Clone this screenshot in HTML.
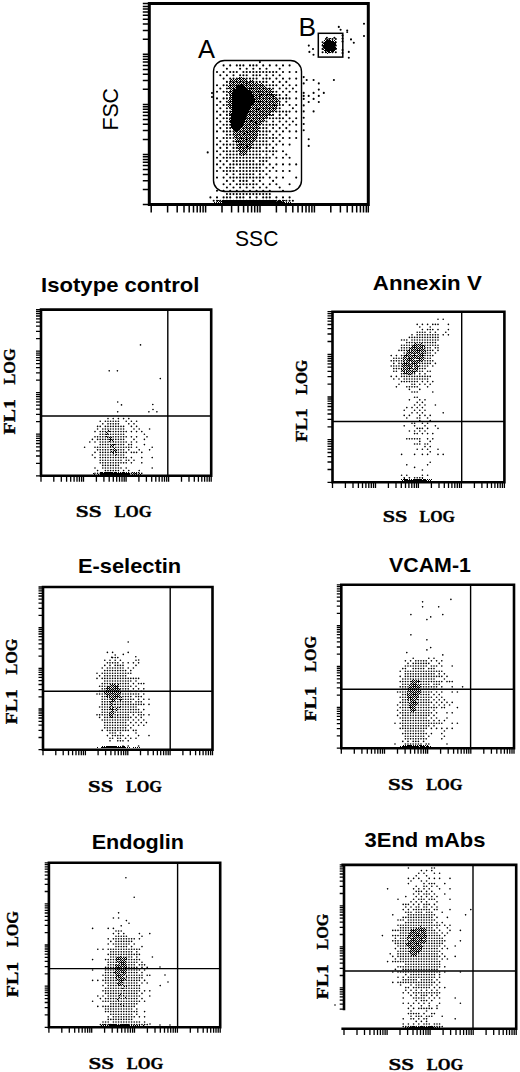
<!DOCTYPE html>
<html><head><meta charset="utf-8"><title>Flow cytometry</title>
<style>html,body{margin:0;padding:0;background:#fff;width:520px;height:1072px;overflow:hidden}svg{display:block}</style>
</head><body><svg width="520" height="1072" viewBox="0 0 520 1072"><defs><pattern id="chk" width="2" height="2" patternUnits="userSpaceOnUse"><path d="M0 0h1v1h-1zM1 1h1v1h-1z"/></pattern></defs>
<path d="M325.9 39h0M329.2 39h0M332.5 39h0M335.8 39h0M322.6 42.3h0M325.9 42.3h0M329.2 42.3h0M332.5 42.3h0M335.8 42.3h0M322.6 45.6h0M325.9 45.6h0M329.2 45.6h0M332.5 45.6h0M335.8 45.6h0M322.6 48.9h0M325.9 48.9h0M329.2 48.9h0M332.5 48.9h0M335.8 48.9h0M322.6 52.2h0M325.9 52.2h0M329.2 52.2h0M332.5 52.2h0M335.8 52.2h0M259.9 62.1h0M223.6 65.4h0M230.2 65.4h0M236.8 65.4h0M240.1 65.4h0M243.4 65.4h0M250 65.4h0M253.3 65.4h0M256.6 65.4h0M263.2 65.4h0M269.8 65.4h0M276.4 65.4h0M283 65.4h0M289.6 65.4h0M226.9 68.7h0M240.1 68.7h0M246.7 68.7h0M253.3 68.7h0M259.9 68.7h0M266.5 68.7h0M279.7 68.7h0M217 72h0M223.6 72h0M230.2 72h0M233.5 72h0M236.8 72h0M243.4 72h0M246.7 72h0M250 72h0M253.3 72h0M256.6 72h0M259.9 72h0M263.2 72h0M266.5 72h0M269.8 72h0M273.1 72h0M276.4 72h0M283 72h0M289.6 72h0M296.2 72h0M220.3 75.3h0M226.9 75.3h0M233.5 75.3h0M240.1 75.3h0M243.4 75.3h0M246.7 75.3h0M253.3 75.3h0M256.6 75.3h0M259.9 75.3h0M266.5 75.3h0M273.1 75.3h0M279.7 75.3h0M223.6 78.6h0M230.2 78.6h0M233.5 78.6h0M236.8 78.6h0M240.1 78.6h0M243.4 78.6h0M246.7 78.6h0M250 78.6h0M253.3 78.6h0M256.6 78.6h0M263.2 78.6h0M266.5 78.6h0M269.8 78.6h0M276.4 78.6h0M283 78.6h0M289.6 78.6h0M296.2 78.6h0M226.9 81.9h0M230.2 81.9h0M233.5 81.9h0M236.8 81.9h0M240.1 81.9h0M243.4 81.9h0M246.7 81.9h0M250 81.9h0M253.3 81.9h0M256.6 81.9h0M259.9 81.9h0M263.2 81.9h0M266.5 81.9h0M273.1 81.9h0M279.7 81.9h0M286.3 81.9h0M217 85.2h0M223.6 85.2h0M226.9 85.2h0M230.2 85.2h0M233.5 85.2h0M236.8 85.2h0M240.1 85.2h0M243.4 85.2h0M246.7 85.2h0M250 85.2h0M253.3 85.2h0M256.6 85.2h0M259.9 85.2h0M263.2 85.2h0M266.5 85.2h0M269.8 85.2h0M273.1 85.2h0M276.4 85.2h0M283 85.2h0M289.6 85.2h0M296.2 85.2h0M220.3 88.5h0M226.9 88.5h0M230.2 88.5h0M233.5 88.5h0M236.8 88.5h0M240.1 88.5h0M243.4 88.5h0M246.7 88.5h0M250 88.5h0M253.3 88.5h0M256.6 88.5h0M259.9 88.5h0M263.2 88.5h0M266.5 88.5h0M269.8 88.5h0M273.1 88.5h0M279.7 88.5h0M286.3 88.5h0M292.9 88.5h0M217 91.8h0M223.6 91.8h0M226.9 91.8h0M230.2 91.8h0M233.5 91.8h0M236.8 91.8h0M240.1 91.8h0M243.4 91.8h0M246.7 91.8h0M250 91.8h0M253.3 91.8h0M256.6 91.8h0M259.9 91.8h0M263.2 91.8h0M266.5 91.8h0M269.8 91.8h0M273.1 91.8h0M276.4 91.8h0M283 91.8h0M289.6 91.8h0M296.2 91.8h0M226.9 95.1h0M230.2 95.1h0M233.5 95.1h0M236.8 95.1h0M240.1 95.1h0M243.4 95.1h0M246.7 95.1h0M250 95.1h0M253.3 95.1h0M256.6 95.1h0M259.9 95.1h0M263.2 95.1h0M266.5 95.1h0M269.8 95.1h0M273.1 95.1h0M276.4 95.1h0M279.7 95.1h0M286.3 95.1h0M217 98.4h0M223.6 98.4h0M226.9 98.4h0M230.2 98.4h0M233.5 98.4h0M236.8 98.4h0M240.1 98.4h0M243.4 98.4h0M246.7 98.4h0M250 98.4h0M253.3 98.4h0M256.6 98.4h0M259.9 98.4h0M263.2 98.4h0M266.5 98.4h0M269.8 98.4h0M273.1 98.4h0M276.4 98.4h0M279.7 98.4h0M283 98.4h0M286.3 98.4h0M289.6 98.4h0M296.2 98.4h0M220.3 101.7h0M226.9 101.7h0M230.2 101.7h0M233.5 101.7h0M236.8 101.7h0M240.1 101.7h0M243.4 101.7h0M246.7 101.7h0M250 101.7h0M253.3 101.7h0M256.6 101.7h0M259.9 101.7h0M263.2 101.7h0M266.5 101.7h0M269.8 101.7h0M273.1 101.7h0M276.4 101.7h0M279.7 101.7h0M286.3 101.7h0M217 105h0M223.6 105h0M226.9 105h0M230.2 105h0M233.5 105h0M236.8 105h0M240.1 105h0M243.4 105h0M246.7 105h0M250 105h0M253.3 105h0M256.6 105h0M259.9 105h0M263.2 105h0M266.5 105h0M269.8 105h0M273.1 105h0M276.4 105h0M279.7 105h0M283 105h0M289.6 105h0M296.2 105h0M220.3 108.3h0M226.9 108.3h0M230.2 108.3h0M233.5 108.3h0M236.8 108.3h0M240.1 108.3h0M243.4 108.3h0M246.7 108.3h0M250 108.3h0M253.3 108.3h0M256.6 108.3h0M259.9 108.3h0M263.2 108.3h0M266.5 108.3h0M269.8 108.3h0M273.1 108.3h0M276.4 108.3h0M279.7 108.3h0M292.9 108.3h0M217 111.6h0M223.6 111.6h0M226.9 111.6h0M230.2 111.6h0M233.5 111.6h0M236.8 111.6h0M240.1 111.6h0M243.4 111.6h0M246.7 111.6h0M250 111.6h0M253.3 111.6h0M256.6 111.6h0M259.9 111.6h0M263.2 111.6h0M266.5 111.6h0M269.8 111.6h0M273.1 111.6h0M276.4 111.6h0M279.7 111.6h0M283 111.6h0M286.3 111.6h0M289.6 111.6h0M296.2 111.6h0M220.3 114.9h0M226.9 114.9h0M230.2 114.9h0M233.5 114.9h0M236.8 114.9h0M240.1 114.9h0M243.4 114.9h0M246.7 114.9h0M250 114.9h0M253.3 114.9h0M256.6 114.9h0M259.9 114.9h0M263.2 114.9h0M266.5 114.9h0M269.8 114.9h0M273.1 114.9h0M279.7 114.9h0M286.3 114.9h0M217 118.2h0M223.6 118.2h0M226.9 118.2h0M230.2 118.2h0M233.5 118.2h0M236.8 118.2h0M240.1 118.2h0M243.4 118.2h0M246.7 118.2h0M250 118.2h0M253.3 118.2h0M256.6 118.2h0M259.9 118.2h0M263.2 118.2h0M266.5 118.2h0M269.8 118.2h0M273.1 118.2h0M276.4 118.2h0M279.7 118.2h0M283 118.2h0M289.6 118.2h0M296.2 118.2h0M220.3 121.5h0M226.9 121.5h0M230.2 121.5h0M233.5 121.5h0M236.8 121.5h0M240.1 121.5h0M243.4 121.5h0M246.7 121.5h0M250 121.5h0M253.3 121.5h0M256.6 121.5h0M259.9 121.5h0M263.2 121.5h0M266.5 121.5h0M273.1 121.5h0M279.7 121.5h0M286.3 121.5h0M292.9 121.5h0M217 124.8h0M223.6 124.8h0M226.9 124.8h0M230.2 124.8h0M233.5 124.8h0M236.8 124.8h0M240.1 124.8h0M243.4 124.8h0M246.7 124.8h0M250 124.8h0M253.3 124.8h0M256.6 124.8h0M259.9 124.8h0M263.2 124.8h0M266.5 124.8h0M269.8 124.8h0M273.1 124.8h0M276.4 124.8h0M283 124.8h0M289.6 124.8h0M296.2 124.8h0M220.3 128.1h0M226.9 128.1h0M230.2 128.1h0M233.5 128.1h0M236.8 128.1h0M240.1 128.1h0M243.4 128.1h0M246.7 128.1h0M250 128.1h0M253.3 128.1h0M256.6 128.1h0M259.9 128.1h0M263.2 128.1h0M266.5 128.1h0M273.1 128.1h0M279.7 128.1h0M286.3 128.1h0M217 131.4h0M223.6 131.4h0M226.9 131.4h0M230.2 131.4h0M233.5 131.4h0M236.8 131.4h0M240.1 131.4h0M243.4 131.4h0M246.7 131.4h0M250 131.4h0M253.3 131.4h0M256.6 131.4h0M259.9 131.4h0M263.2 131.4h0M266.5 131.4h0M269.8 131.4h0M276.4 131.4h0M283 131.4h0M289.6 131.4h0M296.2 131.4h0M226.9 134.7h0M230.2 134.7h0M233.5 134.7h0M236.8 134.7h0M240.1 134.7h0M243.4 134.7h0M246.7 134.7h0M250 134.7h0M253.3 134.7h0M256.6 134.7h0M259.9 134.7h0M263.2 134.7h0M266.5 134.7h0M273.1 134.7h0M279.7 134.7h0M217 138h0M223.6 138h0M226.9 138h0M230.2 138h0M233.5 138h0M236.8 138h0M240.1 138h0M243.4 138h0M246.7 138h0M250 138h0M253.3 138h0M256.6 138h0M259.9 138h0M263.2 138h0M266.5 138h0M269.8 138h0M273.1 138h0M276.4 138h0M283 138h0M289.6 138h0M296.2 138h0M220.3 141.3h0M226.9 141.3h0M233.5 141.3h0M236.8 141.3h0M240.1 141.3h0M243.4 141.3h0M246.7 141.3h0M250 141.3h0M253.3 141.3h0M256.6 141.3h0M259.9 141.3h0M263.2 141.3h0M266.5 141.3h0M273.1 141.3h0M279.7 141.3h0M217 144.6h0M223.6 144.6h0M226.9 144.6h0M230.2 144.6h0M233.5 144.6h0M236.8 144.6h0M240.1 144.6h0M243.4 144.6h0M246.7 144.6h0M250 144.6h0M253.3 144.6h0M256.6 144.6h0M259.9 144.6h0M263.2 144.6h0M266.5 144.6h0M269.8 144.6h0M276.4 144.6h0M283 144.6h0M289.6 144.6h0M220.3 147.9h0M226.9 147.9h0M233.5 147.9h0M236.8 147.9h0M240.1 147.9h0M243.4 147.9h0M246.7 147.9h0M250 147.9h0M253.3 147.9h0M256.6 147.9h0M259.9 147.9h0M266.5 147.9h0M273.1 147.9h0M217 151.2h0M223.6 151.2h0M226.9 151.2h0M230.2 151.2h0M233.5 151.2h0M236.8 151.2h0M240.1 151.2h0M243.4 151.2h0M246.7 151.2h0M250 151.2h0M253.3 151.2h0M256.6 151.2h0M259.9 151.2h0M263.2 151.2h0M266.5 151.2h0M269.8 151.2h0M273.1 151.2h0M276.4 151.2h0M283 151.2h0M220.3 154.5h0M226.9 154.5h0M230.2 154.5h0M233.5 154.5h0M236.8 154.5h0M240.1 154.5h0M243.4 154.5h0M246.7 154.5h0M250 154.5h0M253.3 154.5h0M256.6 154.5h0M259.9 154.5h0M266.5 154.5h0M273.1 154.5h0M286.3 154.5h0M217 157.8h0M223.6 157.8h0M226.9 157.8h0M230.2 157.8h0M233.5 157.8h0M236.8 157.8h0M240.1 157.8h0M243.4 157.8h0M246.7 157.8h0M250 157.8h0M253.3 157.8h0M256.6 157.8h0M259.9 157.8h0M263.2 157.8h0M266.5 157.8h0M269.8 157.8h0M276.4 157.8h0M283 157.8h0M289.6 157.8h0M220.3 161.1h0M226.9 161.1h0M233.5 161.1h0M236.8 161.1h0M240.1 161.1h0M243.4 161.1h0M246.7 161.1h0M250 161.1h0M253.3 161.1h0M259.9 161.1h0M263.2 161.1h0M266.5 161.1h0M217 164.4h0M223.6 164.4h0M230.2 164.4h0M233.5 164.4h0M236.8 164.4h0M240.1 164.4h0M243.4 164.4h0M246.7 164.4h0M250 164.4h0M253.3 164.4h0M256.6 164.4h0M259.9 164.4h0M263.2 164.4h0M269.8 164.4h0M276.4 164.4h0M283 164.4h0M289.6 164.4h0M296.2 164.4h0M220.3 167.7h0M226.9 167.7h0M230.2 167.7h0M233.5 167.7h0M240.1 167.7h0M243.4 167.7h0M246.7 167.7h0M250 167.7h0M253.3 167.7h0M256.6 167.7h0M259.9 167.7h0M266.5 167.7h0M273.1 167.7h0M217 171h0M223.6 171h0M226.9 171h0M230.2 171h0M233.5 171h0M236.8 171h0M240.1 171h0M243.4 171h0M246.7 171h0M250 171h0M253.3 171h0M256.6 171h0M259.9 171h0M263.2 171h0M269.8 171h0M276.4 171h0M283 171h0M289.6 171h0M226.9 174.3h0M233.5 174.3h0M240.1 174.3h0M243.4 174.3h0M246.7 174.3h0M250 174.3h0M253.3 174.3h0M259.9 174.3h0M266.5 174.3h0M217 177.6h0M223.6 177.6h0M230.2 177.6h0M233.5 177.6h0M236.8 177.6h0M240.1 177.6h0M243.4 177.6h0M246.7 177.6h0M250 177.6h0M253.3 177.6h0M256.6 177.6h0M259.9 177.6h0M263.2 177.6h0M269.8 177.6h0M276.4 177.6h0M283 177.6h0M296.2 177.6h0M226.9 180.9h0M233.5 180.9h0M240.1 180.9h0M243.4 180.9h0M246.7 180.9h0M253.3 180.9h0M259.9 180.9h0M273.1 180.9h0M223.6 184.2h0M230.2 184.2h0M236.8 184.2h0M240.1 184.2h0M243.4 184.2h0M246.7 184.2h0M250 184.2h0M253.3 184.2h0M256.6 184.2h0M263.2 184.2h0M269.8 184.2h0M276.4 184.2h0M289.6 184.2h0M226.9 187.5h0M233.5 187.5h0M240.1 187.5h0M246.7 187.5h0M253.3 187.5h0M259.9 187.5h0M266.5 187.5h0M279.7 187.5h0M217 190.8h0M223.6 190.8h0M230.2 190.8h0M236.8 190.8h0M243.4 190.8h0M250 190.8h0M256.6 190.8h0M263.2 190.8h0M269.8 190.8h0M283 190.8h0M226.9 194.1h0M230.2 194.1h0M233.5 194.1h0M236.8 194.1h0M240.1 194.1h0M243.4 194.1h0M246.7 194.1h0M250 194.1h0M253.3 194.1h0M256.6 194.1h0M259.9 194.1h0M263.2 194.1h0M266.5 194.1h0M269.8 194.1h0M210.4 197.4h0M217 197.4h0M223.6 197.4h0M226.9 197.4h0M230.2 197.4h0M236.8 197.4h0M240.1 197.4h0M243.4 197.4h0M250 197.4h0M256.6 197.4h0M263.2 197.4h0M266.5 197.4h0M269.8 197.4h0M276.4 197.4h0M283 197.4h0M289.6 197.4h0M213.7 200.7h0M217 200.7h0M220.3 200.7h0M223.6 200.7h0M226.9 200.7h0M230.2 200.7h0M233.5 200.7h0M236.8 200.7h0M240.1 200.7h0M243.4 200.7h0M246.7 200.7h0M250 200.7h0M253.3 200.7h0M256.6 200.7h0M259.9 200.7h0M263.2 200.7h0M266.5 200.7h0M269.8 200.7h0M273.1 200.7h0M276.4 200.7h0M279.7 200.7h0M283 200.7h0M286.3 200.7h0M289.6 200.7h0M292.9 200.7h0" stroke="#000" stroke-width="2.1" stroke-linecap="round"/>
<path d="M330 38h1v1h-1zM327 39h3v1h-3zM332 39h1v1h-1zM324 40h11v1h-11zM324 41h12v1h-12zM323 42h13v1h-13zM323 43h13v1h-13zM322 44h14v1h-14zM323 45h14v1h-14zM323 46h13v1h-13zM323 47h14v1h-14zM322 48h15v1h-15zM323 49h13v1h-13zM324 50h12v1h-12zM325 51h9v1h-9zM326 52h7v1h-7zM327 53h2v1h-2zM239 77h3v1h-3zM237 78h6v1h-6zM244 78h2v1h-2zM231 79h1v1h-1zM233 79h11v1h-11zM245 79h1v1h-1zM230 80h18v1h-18zM249 80h4v1h-4zM231 81h22v1h-22zM256 81h1v1h-1zM229 82h25v1h-25zM255 82h3v1h-3zM259 82h1v1h-1zM229 83h30v1h-30zM260 83h2v1h-2zM229 84h32v1h-32zM262 84h1v1h-1zM229 85h34v1h-34zM264 85h1v1h-1zM228 86h1v1h-1zM230 86h36v1h-36zM228 87h39v1h-39zM228 88h1v1h-1zM230 88h40v1h-40zM228 89h1v1h-1zM230 89h42v1h-42zM229 90h42v1h-42zM228 91h44v1h-44zM228 92h46v1h-46zM228 93h45v1h-45zM274 93h1v1h-1zM229 94h46v1h-46zM228 95h1v1h-1zM230 95h46v1h-46zM229 96h47v1h-47zM228 97h49v1h-49zM229 98h48v1h-48zM228 99h50v1h-50zM228 100h52v1h-52zM228 101h51v1h-51zM228 102h50v1h-50zM228 103h50v1h-50zM279 103h1v1h-1zM228 104h50v1h-50zM229 105h50v1h-50zM228 106h49v1h-49zM229 107h48v1h-48zM229 108h48v1h-48zM230 109h46v1h-46zM229 110h1v1h-1zM231 110h45v1h-45zM230 111h46v1h-46zM229 112h43v1h-43zM273 112h1v1h-1zM229 113h42v1h-42zM272 113h1v1h-1zM230 114h43v1h-43zM229 115h39v1h-39zM270 115h2v1h-2zM229 116h1v1h-1zM231 116h37v1h-37zM269 116h1v1h-1zM230 117h38v1h-38zM230 118h38v1h-38zM229 119h36v1h-36zM230 120h35v1h-35zM229 121h35v1h-35zM230 122h32v1h-32zM263 122h1v1h-1zM230 123h32v1h-32zM231 124h31v1h-31zM230 125h29v1h-29zM231 126h29v1h-29zM231 127h29v1h-29zM232 128h27v1h-27zM232 129h27v1h-27zM233 130h26v1h-26zM233 131h25v1h-25zM234 132h24v1h-24zM233 133h25v1h-25zM234 134h23v1h-23zM234 135h24v1h-24zM234 136h23v1h-23zM235 137h21v1h-21zM235 138h1v1h-1zM237 138h18v1h-18zM235 139h21v1h-21zM235 140h20v1h-20zM235 141h20v1h-20zM236 142h18v1h-18zM236 143h1v1h-1zM238 143h15v1h-15zM236 144h18v1h-18zM237 145h15v1h-15zM237 146h15v1h-15zM237 147h15v1h-15zM238 148h13v1h-13zM238 149h12v1h-12zM238 150h10v1h-10zM240 151h7v1h-7zM248 151h1v1h-1zM239 152h8v1h-8zM239 153h1v1h-1zM241 153h5v1h-5zM240 154h2v1h-2zM243 154h3v1h-3zM241 155h4v1h-4zM217 200h68v1h-68zM216 201h69v1h-69zM288 201h1v1h-1zM214 202h73v1h-73zM288 202h1v1h-1zM290 202h2v1h-2z" fill="url(#chk)"/>
<path d="M327 40h4v1h-4zM326 41h5v1h-5zM332 41h2v1h-2zM325 42h10v1h-10zM324 43h11v1h-11zM324 44h10v1h-10zM335 44h1v1h-1zM323 45h13v1h-13zM323 46h12v1h-12zM324 47h11v1h-11zM324 48h10v1h-10zM335 48h1v1h-1zM325 49h8v1h-8zM334 49h1v1h-1zM325 50h9v1h-9zM327 51h3v1h-3zM331 51h2v1h-2zM244 82h1v1h-1zM246 83h1v1h-1zM240 84h2v1h-2zM244 84h1v1h-1zM250 84h1v1h-1zM238 85h5v1h-5zM237 86h7v1h-7zM236 87h9v1h-9zM249 87h1v1h-1zM236 88h11v1h-11zM251 88h1v1h-1zM259 88h1v1h-1zM234 89h14v1h-14zM233 90h17v1h-17zM252 90h1v1h-1zM262 90h1v1h-1zM233 91h17v1h-17zM255 91h2v1h-2zM258 91h1v1h-1zM232 92h20v1h-20zM270 92h1v1h-1zM232 93h20v1h-20zM255 93h1v1h-1zM232 94h21v1h-21zM261 94h1v1h-1zM267 94h1v1h-1zM271 94h1v1h-1zM232 95h21v1h-21zM263 95h1v1h-1zM232 96h22v1h-22zM259 96h1v1h-1zM273 96h1v1h-1zM232 97h22v1h-22zM232 98h23v1h-23zM262 98h1v1h-1zM232 99h23v1h-23zM261 99h1v1h-1zM232 100h23v1h-23zM266 100h1v1h-1zM232 101h23v1h-23zM258 101h1v1h-1zM260 101h1v1h-1zM269 101h1v1h-1zM232 102h22v1h-22zM232 103h21v1h-21zM261 103h1v1h-1zM232 104h20v1h-20zM253 104h1v1h-1zM232 105h19v1h-19zM274 105h2v1h-2zM232 106h19v1h-19zM232 107h19v1h-19zM267 107h1v1h-1zM232 108h19v1h-19zM254 108h1v1h-1zM259 108h1v1h-1zM232 109h18v1h-18zM256 109h3v1h-3zM232 110h17v1h-17zM232 111h17v1h-17zM269 111h1v1h-1zM232 112h16v1h-16zM268 112h1v1h-1zM231 113h16v1h-16zM253 113h1v1h-1zM231 114h16v1h-16zM231 115h15v1h-15zM231 116h15v1h-15zM254 116h1v1h-1zM231 117h15v1h-15zM231 118h15v1h-15zM252 118h1v1h-1zM231 119h15v1h-15zM251 119h1v1h-1zM231 120h14v1h-14zM251 120h1v1h-1zM254 120h1v1h-1zM231 121h14v1h-14zM231 122h13v1h-13zM255 122h1v1h-1zM231 123h13v1h-13zM256 123h1v1h-1zM231 124h13v1h-13zM231 125h12v1h-12zM231 126h12v1h-12zM232 127h10v1h-10zM234 128h7v1h-7zM234 129h6v1h-6zM235 130h3v1h-3zM247 132h1v1h-1zM250 132h1v1h-1zM239 133h1v1h-1zM244 133h1v1h-1zM239 135h1v1h-1zM249 137h1v1h-1zM241 138h1v1h-1zM246 139h1v1h-1zM238 141h1v1h-1zM241 144h1v1h-1zM246 145h1v1h-1zM247 146h1v1h-1zM247 147h1v1h-1zM222 200h54v1h-54zM221 201h55v1h-55zM277 201h2v1h-2zM280 201h2v1h-2zM218 202h1v1h-1zM220 202h1v1h-1zM222 202h54v1h-54zM277 202h7v1h-7z"/>
<path d="M303.7 77.1h0M306.7 80h0M313.6 80h0M333.9 80h0M303.7 83.4h0M318.8 83.4h0M318.8 89.6h0M303.7 92.9h0M313.6 92.9h0M323.8 92.9h0M303.7 95.9h0M308.7 95.9h0M318.8 95.9h0M303.7 98.9h0M313.6 98.9h0M308.7 102h0M318.8 102h0M303.7 105.4h0M303.7 111.4h0M313.6 111.4h0M303.7 117.7h0M303.7 124h0M303.7 130.2h0M308.7 139.3h0M308.7 145.9h0M338.8 26.9h0M340.6 29.8h0M347.2 30.6h0M347.2 32h0M351 39.4h0M353.8 42.8h0M348.8 51.9h0M348.8 57.8h0M364 23.8h0M364 36h0M308.8 45.6h0M313 49h0M309.4 51.9h0M313.5 54.8h0M326.9 37.8h0M334.4 37.8h0M342.5 35.5h0M342.5 38.5h0M342.5 41.5h0M342.5 50h0M342.5 53h0M207.7 152.4h0M212 93h0M212 97h0" stroke="#000" stroke-width="2.1" stroke-linecap="round"/>
<path d="M108 418.6h0M113.2 418.6h0M118.4 418.6h0M123.6 418.6h0M128.8 418.6h0M100.2 421.2h0M105.4 421.2h0M108 421.2h0M110.6 421.2h0M113.2 421.2h0M115.8 421.2h0M118.4 421.2h0M126.2 421.2h0M131.4 421.2h0M136.6 421.2h0M102.8 423.8h0M108 423.8h0M110.6 423.8h0M113.2 423.8h0M115.8 423.8h0M118.4 423.8h0M128.8 423.8h0M134 423.8h0M97.6 426.4h0M100.2 426.4h0M105.4 426.4h0M108 426.4h0M110.6 426.4h0M113.2 426.4h0M115.8 426.4h0M118.4 426.4h0M121 426.4h0M123.6 426.4h0M131.4 426.4h0M136.6 426.4h0M97.6 429h0M102.8 429h0M105.4 429h0M108 429h0M110.6 429h0M113.2 429h0M115.8 429h0M118.4 429h0M121 429h0M123.6 429h0M134 429h0M139.2 429h0M149.6 429h0M95 431.6h0M100.2 431.6h0M102.8 431.6h0M105.4 431.6h0M108 431.6h0M110.6 431.6h0M113.2 431.6h0M115.8 431.6h0M118.4 431.6h0M121 431.6h0M123.6 431.6h0M126.2 431.6h0M131.4 431.6h0M136.6 431.6h0M141.8 431.6h0M100.2 434.2h0M102.8 434.2h0M105.4 434.2h0M108 434.2h0M110.6 434.2h0M113.2 434.2h0M115.8 434.2h0M118.4 434.2h0M121 434.2h0M123.6 434.2h0M144.4 434.2h0M95 436.8h0M97.6 436.8h0M100.2 436.8h0M102.8 436.8h0M105.4 436.8h0M108 436.8h0M110.6 436.8h0M113.2 436.8h0M115.8 436.8h0M118.4 436.8h0M121 436.8h0M123.6 436.8h0M126.2 436.8h0M131.4 436.8h0M136.6 436.8h0M147 436.8h0M92.4 439.4h0M97.6 439.4h0M100.2 439.4h0M102.8 439.4h0M105.4 439.4h0M108 439.4h0M110.6 439.4h0M113.2 439.4h0M115.8 439.4h0M118.4 439.4h0M121 439.4h0M123.6 439.4h0M134 439.4h0M144.4 439.4h0M89.8 442h0M95 442h0M100.2 442h0M102.8 442h0M105.4 442h0M108 442h0M110.6 442h0M113.2 442h0M115.8 442h0M118.4 442h0M121 442h0M123.6 442h0M126.2 442h0M131.4 442h0M136.6 442h0M100.2 444.6h0M102.8 444.6h0M105.4 444.6h0M108 444.6h0M110.6 444.6h0M113.2 444.6h0M115.8 444.6h0M118.4 444.6h0M121 444.6h0M123.6 444.6h0M128.8 444.6h0M131.4 444.6h0M144.4 444.6h0M84.6 447.2h0M95 447.2h0M97.6 447.2h0M100.2 447.2h0M102.8 447.2h0M105.4 447.2h0M108 447.2h0M110.6 447.2h0M113.2 447.2h0M115.8 447.2h0M118.4 447.2h0M121 447.2h0M123.6 447.2h0M126.2 447.2h0M128.8 447.2h0M131.4 447.2h0M136.6 447.2h0M152.2 447.2h0M97.6 449.8h0M100.2 449.8h0M102.8 449.8h0M105.4 449.8h0M108 449.8h0M110.6 449.8h0M113.2 449.8h0M115.8 449.8h0M118.4 449.8h0M121 449.8h0M123.6 449.8h0M128.8 449.8h0M139.2 449.8h0M149.6 449.8h0M95 452.4h0M100.2 452.4h0M102.8 452.4h0M105.4 452.4h0M108 452.4h0M110.6 452.4h0M113.2 452.4h0M115.8 452.4h0M118.4 452.4h0M121 452.4h0M123.6 452.4h0M126.2 452.4h0M131.4 452.4h0M134 452.4h0M136.6 452.4h0M141.8 452.4h0M92.4 455h0M100.2 455h0M102.8 455h0M105.4 455h0M108 455h0M110.6 455h0M113.2 455h0M115.8 455h0M118.4 455h0M121 455h0M123.6 455h0M95 457.6h0M100.2 457.6h0M102.8 457.6h0M105.4 457.6h0M108 457.6h0M110.6 457.6h0M113.2 457.6h0M115.8 457.6h0M118.4 457.6h0M121 457.6h0M123.6 457.6h0M126.2 457.6h0M131.4 457.6h0M141.8 457.6h0M152.2 457.6h0M100.2 460.2h0M102.8 460.2h0M105.4 460.2h0M108 460.2h0M110.6 460.2h0M113.2 460.2h0M115.8 460.2h0M118.4 460.2h0M121 460.2h0M126.2 460.2h0M128.8 460.2h0M134 460.2h0M100.2 462.8h0M102.8 462.8h0M105.4 462.8h0M108 462.8h0M110.6 462.8h0M113.2 462.8h0M115.8 462.8h0M118.4 462.8h0M121 462.8h0M123.6 462.8h0M126.2 462.8h0M131.4 462.8h0M141.8 462.8h0M102.8 465.4h0M105.4 465.4h0M108 465.4h0M110.6 465.4h0M113.2 465.4h0M115.8 465.4h0M118.4 465.4h0M95 468h0M102.8 468h0M105.4 468h0M108 468h0M110.6 468h0M113.2 468h0M115.8 468h0M118.4 468h0M121 468h0M126.2 468h0M152.2 468h0M97.6 470.6h0M105.4 470.6h0M108 470.6h0M110.6 470.6h0M113.2 470.6h0M115.8 470.6h0M118.4 470.6h0M123.6 470.6h0M128.8 470.6h0M139.2 470.6h0M95 473.2h0M97.6 473.2h0M100.2 473.2h0M102.8 473.2h0M105.4 473.2h0M108 473.2h0M110.6 473.2h0M113.2 473.2h0M115.8 473.2h0M118.4 473.2h0M121 473.2h0M123.6 473.2h0M126.2 473.2h0M128.8 473.2h0M131.4 473.2h0M134 473.2h0M136.6 473.2h0M139.2 473.2h0M141.8 473.2h0" stroke="#000" stroke-width="1.65" stroke-linecap="round"/>
<path d="M108 430h2v1h-2zM106 431h1v1h-1zM109 431h1v1h-1zM106 432h1v1h-1zM109 432h1v1h-1zM106 433h3v1h-3zM106 434h1v1h-1zM108 434h2v1h-2zM106 435h1v1h-1zM110 435h1v1h-1zM106 436h1v1h-1zM111 436h1v1h-1zM107 437h5v1h-5zM109 438h3v1h-3zM108 439h5v1h-5zM110 440h1v1h-1zM112 440h1v1h-1zM109 441h2v1h-2zM112 441h2v1h-2zM111 442h1v1h-1zM110 443h1v1h-1zM110 444h5v1h-5zM110 445h2v1h-2zM113 445h2v1h-2zM110 446h3v1h-3zM112 447h3v1h-3zM114 448h2v1h-2zM111 449h3v1h-3zM115 449h1v1h-1zM113 450h2v1h-2zM116 450h1v1h-1zM111 451h3v1h-3zM115 451h1v1h-1zM112 452h1v1h-1zM116 452h1v1h-1zM113 453h2v1h-2zM116 453h1v1h-1zM115 454h2v1h-2zM114 455h2v1h-2zM115 456h1v1h-1zM99 472h31v1h-31zM132 472h1v1h-1zM134 472h1v1h-1zM136 472h1v1h-1zM138 472h1v1h-1zM93 473h1v1h-1zM96 473h3v1h-3zM100 473h37v1h-37zM138 473h2v1h-2zM141 473h1v1h-1zM93 474h3v1h-3zM97 474h33v1h-33zM131 474h4v1h-4zM136 474h6v1h-6z" fill="url(#chk)"/>
<path d="M101 472h1v1h-1zM104 472h4v1h-4zM109 472h1v1h-1zM111 472h1v1h-1zM114 472h2v1h-2zM120 472h1v1h-1zM122 472h3v1h-3zM128 472h1v1h-1zM100 473h30v1h-30zM101 474h29v1h-29z"/>
<path d="M140.5 344.9h0M109.2 370.8h0M117.4 370.8h0M160.3 378.6h0M117.7 402h0M121.5 404.9h0M117.7 411.8h0M152.8 404.5h0M153 409.5h0M148.9 411.8h0M156.9 411.8h0" stroke="#000" stroke-width="1.65" stroke-linecap="round"/>
<path d="M438 319.2h0M443.2 319.2h0M417.2 324.4h0M422.4 324.4h0M427.6 324.4h0M432.8 324.4h0M435.4 324.4h0M438 324.4h0M448.4 324.4h0M419.8 327h0M430.2 327h0M422.4 329.6h0M427.6 329.6h0M430.2 329.6h0M432.8 329.6h0M438 329.6h0M448.4 329.6h0M417.2 332.2h0M419.8 332.2h0M422.4 332.2h0M425 332.2h0M430.2 332.2h0M435.4 332.2h0M445.8 332.2h0M412 334.8h0M417.2 334.8h0M419.8 334.8h0M422.4 334.8h0M425 334.8h0M427.6 334.8h0M430.2 334.8h0M432.8 334.8h0M435.4 334.8h0M438 334.8h0M443.2 334.8h0M448.4 334.8h0M409.4 337.4h0M412 337.4h0M414.6 337.4h0M417.2 337.4h0M419.8 337.4h0M422.4 337.4h0M425 337.4h0M427.6 337.4h0M430.2 337.4h0M432.8 337.4h0M435.4 337.4h0M438 337.4h0M401.6 340h0M404.2 340h0M406.8 340h0M412 340h0M414.6 340h0M417.2 340h0M419.8 340h0M422.4 340h0M425 340h0M427.6 340h0M430.2 340h0M432.8 340h0M435.4 340h0M438 340h0M406.8 342.6h0M409.4 342.6h0M412 342.6h0M414.6 342.6h0M417.2 342.6h0M419.8 342.6h0M422.4 342.6h0M425 342.6h0M427.6 342.6h0M430.2 342.6h0M432.8 342.6h0M435.4 342.6h0M401.6 345.2h0M404.2 345.2h0M406.8 345.2h0M409.4 345.2h0M412 345.2h0M414.6 345.2h0M417.2 345.2h0M419.8 345.2h0M422.4 345.2h0M425 345.2h0M427.6 345.2h0M430.2 345.2h0M432.8 345.2h0M435.4 345.2h0M438 345.2h0M401.6 347.8h0M404.2 347.8h0M406.8 347.8h0M409.4 347.8h0M412 347.8h0M414.6 347.8h0M417.2 347.8h0M419.8 347.8h0M422.4 347.8h0M425 347.8h0M427.6 347.8h0M430.2 347.8h0M435.4 347.8h0M438 347.8h0M399 350.4h0M401.6 350.4h0M404.2 350.4h0M406.8 350.4h0M409.4 350.4h0M412 350.4h0M414.6 350.4h0M417.2 350.4h0M419.8 350.4h0M422.4 350.4h0M425 350.4h0M427.6 350.4h0M430.2 350.4h0M432.8 350.4h0M438 350.4h0M404.2 353h0M406.8 353h0M409.4 353h0M412 353h0M414.6 353h0M417.2 353h0M419.8 353h0M422.4 353h0M425 353h0M427.6 353h0M430.2 353h0M435.4 353h0M391.2 355.6h0M396.4 355.6h0M401.6 355.6h0M404.2 355.6h0M406.8 355.6h0M409.4 355.6h0M412 355.6h0M414.6 355.6h0M417.2 355.6h0M419.8 355.6h0M422.4 355.6h0M425 355.6h0M427.6 355.6h0M430.2 355.6h0M432.8 355.6h0M393.8 358.2h0M396.4 358.2h0M399 358.2h0M401.6 358.2h0M404.2 358.2h0M406.8 358.2h0M409.4 358.2h0M412 358.2h0M414.6 358.2h0M417.2 358.2h0M419.8 358.2h0M422.4 358.2h0M425 358.2h0M427.6 358.2h0M430.2 358.2h0M391.2 360.8h0M393.8 360.8h0M396.4 360.8h0M399 360.8h0M401.6 360.8h0M404.2 360.8h0M406.8 360.8h0M409.4 360.8h0M412 360.8h0M414.6 360.8h0M417.2 360.8h0M419.8 360.8h0M422.4 360.8h0M425 360.8h0M427.6 360.8h0M430.2 360.8h0M432.8 360.8h0M393.8 363.4h0M399 363.4h0M401.6 363.4h0M404.2 363.4h0M406.8 363.4h0M409.4 363.4h0M412 363.4h0M414.6 363.4h0M417.2 363.4h0M419.8 363.4h0M422.4 363.4h0M425 363.4h0M427.6 363.4h0M430.2 363.4h0M435.4 363.4h0M391.2 366h0M393.8 366h0M396.4 366h0M399 366h0M401.6 366h0M404.2 366h0M406.8 366h0M409.4 366h0M412 366h0M414.6 366h0M417.2 366h0M419.8 366h0M422.4 366h0M425 366h0M427.6 366h0M432.8 366h0M393.8 368.6h0M396.4 368.6h0M399 368.6h0M401.6 368.6h0M404.2 368.6h0M406.8 368.6h0M409.4 368.6h0M412 368.6h0M414.6 368.6h0M417.2 368.6h0M419.8 368.6h0M422.4 368.6h0M425 368.6h0M393.8 371.2h0M396.4 371.2h0M401.6 371.2h0M404.2 371.2h0M406.8 371.2h0M409.4 371.2h0M412 371.2h0M414.6 371.2h0M417.2 371.2h0M419.8 371.2h0M422.4 371.2h0M427.6 371.2h0M430.2 371.2h0M401.6 373.8h0M404.2 373.8h0M406.8 373.8h0M409.4 373.8h0M412 373.8h0M414.6 373.8h0M419.8 373.8h0M425 373.8h0M391.2 376.4h0M396.4 376.4h0M401.6 376.4h0M404.2 376.4h0M406.8 376.4h0M409.4 376.4h0M412 376.4h0M414.6 376.4h0M417.2 376.4h0M419.8 376.4h0M422.4 376.4h0M425 376.4h0M427.6 376.4h0M430.2 376.4h0M393.8 379h0M399 379h0M404.2 379h0M406.8 379h0M409.4 379h0M412 379h0M414.6 379h0M417.2 379h0M419.8 379h0M422.4 379h0M425 379h0M427.6 379h0M401.6 381.6h0M404.2 381.6h0M406.8 381.6h0M409.4 381.6h0M412 381.6h0M414.6 381.6h0M417.2 381.6h0M422.4 381.6h0M427.6 381.6h0M432.8 381.6h0M399 384.2h0M412 384.2h0M414.6 384.2h0M419.8 384.2h0M425 384.2h0M430.2 384.2h0M396.4 386.8h0M406.8 386.8h0M409.4 386.8h0M412 386.8h0M414.6 386.8h0M417.2 386.8h0M427.6 386.8h0M409.4 389.4h0M419.8 389.4h0M412 392h0M414.6 392h0M417.2 392h0M432.8 392h0M414.6 397.2h0M417.2 397.2h0M409.4 399.8h0M419.8 399.8h0M425 399.8h0M417.2 402.4h0M422.4 402.4h0M414.6 405h0M419.8 405h0M425 405h0M435.4 405h0M406.8 407.6h0M412 407.6h0M417.2 407.6h0M422.4 407.6h0M404.2 410.2h0M414.6 410.2h0M419.8 410.2h0M425 410.2h0M412 412.8h0M417.2 412.8h0M422.4 412.8h0M443.2 412.8h0M404.2 415.4h0M409.4 415.4h0M419.8 415.4h0M425 415.4h0M430.2 415.4h0M406.8 418h0M417.2 418h0M419.8 418h0M427.6 418h0M419.8 420.6h0M430.2 420.6h0M412 423.2h0M414.6 423.2h0M422.4 423.2h0M427.6 423.2h0M404.2 425.8h0M414.6 425.8h0M425 425.8h0M435.4 425.8h0M417.2 428.4h0M419.8 428.4h0M422.4 428.4h0M427.6 428.4h0M438 428.4h0M409.4 431h0M414.6 431h0M419.8 431h0M425 431h0M414.6 433.6h0M417.2 433.6h0M422.4 433.6h0M427.6 433.6h0M432.8 433.6h0M406.8 438.8h0M409.4 438.8h0M412 438.8h0M414.6 438.8h0M417.2 438.8h0M419.8 438.8h0M427.6 438.8h0M432.8 438.8h0M419.8 441.4h0M430.2 441.4h0M414.6 444h0M417.2 444h0M419.8 444h0M425 444h0M427.6 444h0M425 446.6h0M430.2 446.6h0M417.2 449.2h0M422.4 449.2h0M427.6 449.2h0M438 449.2h0M430.2 451.8h0M401.6 454.4h0M414.6 454.4h0M422.4 454.4h0M427.6 454.4h0M438 454.4h0M443.2 454.4h0M430.2 462.2h0M406.8 464.8h0M427.6 464.8h0M414.6 467.4h0M422.4 470h0M401.6 475.2h0M406.8 475.2h0M422.4 475.2h0M427.6 475.2h0M404.2 477.8h0M409.4 477.8h0M414.6 477.8h0M417.2 477.8h0M419.8 477.8h0M422.4 477.8h0" stroke="#000" stroke-width="1.65" stroke-linecap="round"/>
<path d="M415 343h2v1h-2zM418 343h1v1h-1zM421 343h1v1h-1zM414 344h5v1h-5zM420 344h2v1h-2zM412 345h12v1h-12zM412 346h13v1h-13zM409 347h1v1h-1zM411 347h12v1h-12zM424 347h1v1h-1zM409 348h10v1h-10zM420 348h5v1h-5zM408 349h17v1h-17zM408 350h2v1h-2zM411 350h15v1h-15zM407 351h13v1h-13zM421 351h5v1h-5zM405 352h1v1h-1zM407 352h12v1h-12zM421 352h2v1h-2zM406 353h20v1h-20zM406 354h6v1h-6zM413 354h3v1h-3zM417 354h7v1h-7zM404 355h20v1h-20zM404 356h19v1h-19zM403 357h4v1h-4zM408 357h12v1h-12zM421 357h3v1h-3zM403 358h21v1h-21zM403 359h1v1h-1zM405 359h10v1h-10zM416 359h1v1h-1zM418 359h4v1h-4zM423 359h1v1h-1zM403 360h20v1h-20zM402 361h2v1h-2zM406 361h6v1h-6zM413 361h9v1h-9zM403 362h7v1h-7zM411 362h9v1h-9zM421 362h1v1h-1zM402 363h19v1h-19zM401 364h17v1h-17zM419 364h1v1h-1zM402 365h11v1h-11zM414 365h6v1h-6zM401 366h12v1h-12zM414 366h6v1h-6zM402 367h6v1h-6zM409 367h4v1h-4zM414 367h4v1h-4zM401 368h1v1h-1zM403 368h15v1h-15zM401 369h10v1h-10zM412 369h4v1h-4zM417 369h1v1h-1zM401 370h4v1h-4zM406 370h8v1h-8zM415 370h2v1h-2zM402 371h3v1h-3zM406 371h2v1h-2zM409 371h7v1h-7zM403 372h10v1h-10zM414 372h1v1h-1zM403 373h1v1h-1zM405 373h1v1h-1zM407 373h5v1h-5zM408 374h3v1h-3zM404 478h1v1h-1zM407 478h1v1h-1zM415 478h1v1h-1zM422 478h1v1h-1zM429 478h1v1h-1zM401 479h29v1h-29zM431 479h1v1h-1zM401 480h28v1h-28zM430 480h2v1h-2z" fill="url(#chk)"/>
<path d="M404 479h3v1h-3zM411 479h1v1h-1zM414 479h7v1h-7zM423 479h3v1h-3zM404 480h23v1h-23z"/>
<path d="M409 358h0M409 365h0M409.5 359.5h0" stroke="#000" stroke-width="1.65" stroke-linecap="round"/>
<path d="M128.2 642h0M107.4 652.4h0M112.6 652.4h0M128.2 652.4h0M115.2 655h0M112.6 657.6h0M115.2 657.6h0M117.8 657.6h0M104.8 660.2h0M110 660.2h0M115.2 660.2h0M120.4 660.2h0M136 660.2h0M107.4 662.8h0M110 662.8h0M112.6 662.8h0M115.2 662.8h0M117.8 662.8h0M123 662.8h0M128.2 662.8h0M133.4 662.8h0M138.6 662.8h0M104.8 665.4h0M110 665.4h0M115.2 665.4h0M117.8 665.4h0M120.4 665.4h0M123 665.4h0M136 665.4h0M102.2 668h0M107.4 668h0M110 668h0M112.6 668h0M115.2 668h0M117.8 668h0M120.4 668h0M123 668h0M128.2 668h0M133.4 668h0M104.8 670.6h0M107.4 670.6h0M110 670.6h0M112.6 670.6h0M115.2 670.6h0M117.8 670.6h0M120.4 670.6h0M123 670.6h0M125.6 670.6h0M130.8 670.6h0M97 673.2h0M102.2 673.2h0M104.8 673.2h0M107.4 673.2h0M110 673.2h0M112.6 673.2h0M115.2 673.2h0M117.8 673.2h0M120.4 673.2h0M123 673.2h0M125.6 673.2h0M128.2 673.2h0M130.8 673.2h0M99.6 675.8h0M104.8 675.8h0M107.4 675.8h0M110 675.8h0M112.6 675.8h0M115.2 675.8h0M117.8 675.8h0M120.4 675.8h0M123 675.8h0M125.6 675.8h0M97 678.4h0M102.2 678.4h0M104.8 678.4h0M107.4 678.4h0M110 678.4h0M112.6 678.4h0M115.2 678.4h0M117.8 678.4h0M120.4 678.4h0M123 678.4h0M125.6 678.4h0M128.2 678.4h0M130.8 678.4h0M133.4 678.4h0M136 678.4h0M138.6 678.4h0M104.8 681h0M107.4 681h0M110 681h0M112.6 681h0M115.2 681h0M117.8 681h0M120.4 681h0M123 681h0M125.6 681h0M128.2 681h0M130.8 681h0M136 681h0M102.2 683.6h0M104.8 683.6h0M107.4 683.6h0M110 683.6h0M112.6 683.6h0M115.2 683.6h0M117.8 683.6h0M120.4 683.6h0M123 683.6h0M125.6 683.6h0M128.2 683.6h0M133.4 683.6h0M138.6 683.6h0M141.2 683.6h0M143.8 683.6h0M99.6 686.2h0M102.2 686.2h0M104.8 686.2h0M107.4 686.2h0M110 686.2h0M112.6 686.2h0M115.2 686.2h0M117.8 686.2h0M120.4 686.2h0M123 686.2h0M125.6 686.2h0M128.2 686.2h0M130.8 686.2h0M136 686.2h0M102.2 688.8h0M104.8 688.8h0M107.4 688.8h0M110 688.8h0M112.6 688.8h0M115.2 688.8h0M117.8 688.8h0M120.4 688.8h0M123 688.8h0M125.6 688.8h0M128.2 688.8h0M133.4 688.8h0M138.6 688.8h0M143.8 688.8h0M99.6 691.4h0M102.2 691.4h0M104.8 691.4h0M107.4 691.4h0M110 691.4h0M112.6 691.4h0M115.2 691.4h0M117.8 691.4h0M120.4 691.4h0M123 691.4h0M125.6 691.4h0M128.2 691.4h0M130.8 691.4h0M136 691.4h0M141.2 691.4h0M97 694h0M99.6 694h0M102.2 694h0M104.8 694h0M107.4 694h0M110 694h0M112.6 694h0M115.2 694h0M117.8 694h0M120.4 694h0M123 694h0M125.6 694h0M128.2 694h0M130.8 694h0M133.4 694h0M136 694h0M138.6 694h0M143.8 694h0M102.2 696.6h0M104.8 696.6h0M107.4 696.6h0M110 696.6h0M112.6 696.6h0M115.2 696.6h0M117.8 696.6h0M120.4 696.6h0M123 696.6h0M125.6 696.6h0M128.2 696.6h0M130.8 696.6h0M136 696.6h0M138.6 696.6h0M141.2 696.6h0M102.2 699.2h0M104.8 699.2h0M107.4 699.2h0M110 699.2h0M112.6 699.2h0M115.2 699.2h0M117.8 699.2h0M120.4 699.2h0M123 699.2h0M125.6 699.2h0M128.2 699.2h0M130.8 699.2h0M133.4 699.2h0M138.6 699.2h0M143.8 699.2h0M149 699.2h0M102.2 701.8h0M104.8 701.8h0M107.4 701.8h0M110 701.8h0M112.6 701.8h0M115.2 701.8h0M117.8 701.8h0M120.4 701.8h0M123 701.8h0M125.6 701.8h0M128.2 701.8h0M130.8 701.8h0M136 701.8h0M138.6 701.8h0M141.2 701.8h0M102.2 704.4h0M104.8 704.4h0M107.4 704.4h0M110 704.4h0M112.6 704.4h0M115.2 704.4h0M117.8 704.4h0M120.4 704.4h0M123 704.4h0M125.6 704.4h0M128.2 704.4h0M130.8 704.4h0M133.4 704.4h0M136 704.4h0M138.6 704.4h0M141.2 704.4h0M143.8 704.4h0M149 704.4h0M99.6 707h0M102.2 707h0M104.8 707h0M107.4 707h0M110 707h0M112.6 707h0M115.2 707h0M117.8 707h0M120.4 707h0M123 707h0M125.6 707h0M128.2 707h0M130.8 707h0M133.4 707h0M136 707h0M102.2 709.6h0M104.8 709.6h0M107.4 709.6h0M110 709.6h0M112.6 709.6h0M115.2 709.6h0M117.8 709.6h0M120.4 709.6h0M123 709.6h0M125.6 709.6h0M128.2 709.6h0M130.8 709.6h0M133.4 709.6h0M136 709.6h0M138.6 709.6h0M143.8 709.6h0M102.2 712.2h0M104.8 712.2h0M107.4 712.2h0M110 712.2h0M112.6 712.2h0M115.2 712.2h0M117.8 712.2h0M120.4 712.2h0M123 712.2h0M125.6 712.2h0M128.2 712.2h0M130.8 712.2h0M133.4 712.2h0M136 712.2h0M138.6 712.2h0M141.2 712.2h0M97 714.8h0M99.6 714.8h0M102.2 714.8h0M104.8 714.8h0M107.4 714.8h0M110 714.8h0M112.6 714.8h0M115.2 714.8h0M117.8 714.8h0M120.4 714.8h0M123 714.8h0M125.6 714.8h0M128.2 714.8h0M133.4 714.8h0M138.6 714.8h0M141.2 714.8h0M143.8 714.8h0M149 714.8h0M99.6 717.4h0M104.8 717.4h0M107.4 717.4h0M110 717.4h0M112.6 717.4h0M115.2 717.4h0M117.8 717.4h0M120.4 717.4h0M123 717.4h0M125.6 717.4h0M128.2 717.4h0M130.8 717.4h0M136 717.4h0M141.2 717.4h0M102.2 720h0M104.8 720h0M107.4 720h0M110 720h0M112.6 720h0M115.2 720h0M117.8 720h0M120.4 720h0M123 720h0M125.6 720h0M128.2 720h0M133.4 720h0M138.6 720h0M143.8 720h0M104.8 722.6h0M107.4 722.6h0M110 722.6h0M112.6 722.6h0M115.2 722.6h0M117.8 722.6h0M120.4 722.6h0M123 722.6h0M125.6 722.6h0M130.8 722.6h0M136 722.6h0M141.2 722.6h0M146.4 722.6h0M104.8 725.2h0M107.4 725.2h0M110 725.2h0M112.6 725.2h0M115.2 725.2h0M117.8 725.2h0M120.4 725.2h0M123 725.2h0M125.6 725.2h0M128.2 725.2h0M133.4 725.2h0M138.6 725.2h0M143.8 725.2h0M104.8 727.8h0M107.4 727.8h0M110 727.8h0M112.6 727.8h0M115.2 727.8h0M117.8 727.8h0M120.4 727.8h0M123 727.8h0M125.6 727.8h0M130.8 727.8h0M102.2 730.4h0M107.4 730.4h0M110 730.4h0M112.6 730.4h0M115.2 730.4h0M117.8 730.4h0M120.4 730.4h0M123 730.4h0M125.6 730.4h0M128.2 730.4h0M133.4 730.4h0M136 730.4h0M110 733h0M112.6 733h0M115.2 733h0M120.4 733h0M136 733h0M107.4 735.6h0M112.6 735.6h0M115.2 735.6h0M117.8 735.6h0M120.4 735.6h0M123 735.6h0M128.2 735.6h0M138.6 735.6h0M149 735.6h0M110 738.2h0M112.6 738.2h0M117.8 738.2h0M120.4 738.2h0M125.6 738.2h0M130.8 738.2h0M136 738.2h0M110 740.8h0M117.8 740.8h0M120.4 740.8h0M123 740.8h0M128.2 740.8h0M123 746h0M128.2 746h0M138.6 746h0" stroke="#000" stroke-width="1.65" stroke-linecap="round"/>
<path d="M110 684h6v1h-6zM118 684h1v1h-1zM108 685h1v1h-1zM110 685h2v1h-2zM113 685h3v1h-3zM117 685h2v1h-2zM107 686h13v1h-13zM106 687h13v1h-13zM106 688h9v1h-9zM116 688h4v1h-4zM106 689h14v1h-14zM105 690h10v1h-10zM116 690h4v1h-4zM105 691h10v1h-10zM116 691h3v1h-3zM121 691h1v1h-1zM104 692h15v1h-15zM120 692h2v1h-2zM105 693h16v1h-16zM105 694h15v1h-15zM106 695h14v1h-14zM106 696h2v1h-2zM109 696h10v1h-10zM106 697h12v1h-12zM119 697h1v1h-1zM121 697h1v1h-1zM110 698h5v1h-5zM116 698h1v1h-1zM110 699h5v1h-5zM119 699h1v1h-1zM121 699h1v1h-1zM109 700h1v1h-1zM112 700h1v1h-1zM114 700h1v1h-1zM120 700h1v1h-1zM109 701h5v1h-5zM118 701h1v1h-1zM109 702h3v1h-3zM113 702h1v1h-1zM110 703h3v1h-3zM109 704h2v1h-2zM112 704h4v1h-4zM120 704h1v1h-1zM110 705h3v1h-3zM114 705h1v1h-1zM116 705h1v1h-1zM118 705h1v1h-1zM120 705h1v1h-1zM109 706h5v1h-5zM120 706h1v1h-1zM109 707h2v1h-2zM112 707h3v1h-3zM117 707h1v1h-1zM119 707h1v1h-1zM109 708h4v1h-4zM115 708h2v1h-2zM109 709h6v1h-6zM116 709h2v1h-2zM109 710h1v1h-1zM111 710h3v1h-3zM116 710h1v1h-1zM110 711h4v1h-4zM109 712h5v1h-5zM109 713h5v1h-5zM110 714h4v1h-4zM109 715h3v1h-3zM117 715h1v1h-1zM110 716h1v1h-1zM112 716h1v1h-1zM111 717h1v1h-1zM99 746h1v1h-1zM101 746h25v1h-25zM133 746h1v1h-1zM97 747h2v1h-2zM100 747h26v1h-26zM127 747h4v1h-4zM132 747h2v1h-2zM135 747h5v1h-5z" fill="url(#chk)"/>
<path d="M102 746h1v1h-1zM107 746h10v1h-10zM120 746h1v1h-1zM122 746h2v1h-2zM101 747h25v1h-25z"/>
<path d="M123.3 654.4h0M111.7 657.3h0M135.8 656.7h0M138.7 660h0" stroke="#000" stroke-width="1.65" stroke-linecap="round"/>
<path d="M413.2 658.2h0M428.8 658.2h0M434 658.2h0M405.4 660.8h0M410.6 660.8h0M415.8 660.8h0M418.4 660.8h0M421 660.8h0M423.6 660.8h0M426.2 660.8h0M431.4 660.8h0M436.6 660.8h0M441.8 660.8h0M408 663.4h0M413.2 663.4h0M415.8 663.4h0M418.4 663.4h0M421 663.4h0M423.6 663.4h0M426.2 663.4h0M428.8 663.4h0M439.2 663.4h0M405.4 666h0M408 666h0M410.6 666h0M413.2 666h0M415.8 666h0M418.4 666h0M421 666h0M423.6 666h0M426.2 666h0M431.4 666h0M434 666h0M436.6 666h0M441.8 666h0M452.2 666h0M402.8 668.6h0M405.4 668.6h0M413.2 668.6h0M415.8 668.6h0M418.4 668.6h0M421 668.6h0M423.6 668.6h0M428.8 668.6h0M431.4 668.6h0M434 668.6h0M400.2 671.2h0M405.4 671.2h0M408 671.2h0M410.6 671.2h0M413.2 671.2h0M415.8 671.2h0M418.4 671.2h0M421 671.2h0M423.6 671.2h0M426.2 671.2h0M428.8 671.2h0M431.4 671.2h0M434 671.2h0M436.6 671.2h0M439.2 671.2h0M441.8 671.2h0M405.4 673.8h0M408 673.8h0M410.6 673.8h0M413.2 673.8h0M415.8 673.8h0M418.4 673.8h0M421 673.8h0M423.6 673.8h0M426.2 673.8h0M428.8 673.8h0M431.4 673.8h0M434 673.8h0M439.2 673.8h0M444.4 673.8h0M400.2 676.4h0M405.4 676.4h0M408 676.4h0M410.6 676.4h0M413.2 676.4h0M415.8 676.4h0M418.4 676.4h0M421 676.4h0M423.6 676.4h0M426.2 676.4h0M428.8 676.4h0M431.4 676.4h0M434 676.4h0M436.6 676.4h0M439.2 676.4h0M441.8 676.4h0M447 676.4h0M402.8 679h0M405.4 679h0M408 679h0M410.6 679h0M413.2 679h0M415.8 679h0M418.4 679h0M421 679h0M423.6 679h0M426.2 679h0M428.8 679h0M431.4 679h0M434 679h0M444.4 679h0M400.2 681.6h0M402.8 681.6h0M405.4 681.6h0M408 681.6h0M410.6 681.6h0M413.2 681.6h0M415.8 681.6h0M418.4 681.6h0M421 681.6h0M423.6 681.6h0M426.2 681.6h0M428.8 681.6h0M431.4 681.6h0M434 681.6h0M436.6 681.6h0M439.2 681.6h0M441.8 681.6h0M447 681.6h0M449.6 681.6h0M452.2 681.6h0M402.8 684.2h0M405.4 684.2h0M408 684.2h0M410.6 684.2h0M413.2 684.2h0M415.8 684.2h0M418.4 684.2h0M421 684.2h0M423.6 684.2h0M426.2 684.2h0M428.8 684.2h0M434 684.2h0M436.6 684.2h0M439.2 684.2h0M400.2 686.8h0M402.8 686.8h0M405.4 686.8h0M408 686.8h0M410.6 686.8h0M413.2 686.8h0M415.8 686.8h0M418.4 686.8h0M421 686.8h0M423.6 686.8h0M426.2 686.8h0M428.8 686.8h0M431.4 686.8h0M434 686.8h0M436.6 686.8h0M441.8 686.8h0M452.2 686.8h0M462.6 686.8h0M402.8 689.4h0M405.4 689.4h0M408 689.4h0M410.6 689.4h0M413.2 689.4h0M415.8 689.4h0M418.4 689.4h0M421 689.4h0M423.6 689.4h0M426.2 689.4h0M428.8 689.4h0M434 689.4h0M397.6 692h0M400.2 692h0M402.8 692h0M405.4 692h0M408 692h0M410.6 692h0M413.2 692h0M415.8 692h0M418.4 692h0M421 692h0M423.6 692h0M426.2 692h0M428.8 692h0M431.4 692h0M436.6 692h0M441.8 692h0M452.2 692h0M457.4 692h0M402.8 694.6h0M405.4 694.6h0M408 694.6h0M410.6 694.6h0M413.2 694.6h0M415.8 694.6h0M418.4 694.6h0M421 694.6h0M423.6 694.6h0M426.2 694.6h0M428.8 694.6h0M434 694.6h0M439.2 694.6h0M400.2 697.2h0M402.8 697.2h0M405.4 697.2h0M408 697.2h0M410.6 697.2h0M413.2 697.2h0M415.8 697.2h0M418.4 697.2h0M421 697.2h0M423.6 697.2h0M426.2 697.2h0M428.8 697.2h0M431.4 697.2h0M436.6 697.2h0M441.8 697.2h0M402.8 699.8h0M405.4 699.8h0M408 699.8h0M410.6 699.8h0M413.2 699.8h0M415.8 699.8h0M418.4 699.8h0M421 699.8h0M423.6 699.8h0M426.2 699.8h0M428.8 699.8h0M434 699.8h0M439.2 699.8h0M444.4 699.8h0M400.2 702.4h0M402.8 702.4h0M405.4 702.4h0M408 702.4h0M410.6 702.4h0M413.2 702.4h0M415.8 702.4h0M418.4 702.4h0M421 702.4h0M423.6 702.4h0M426.2 702.4h0M428.8 702.4h0M431.4 702.4h0M436.6 702.4h0M441.8 702.4h0M447 702.4h0M452.2 702.4h0M397.6 705h0M402.8 705h0M405.4 705h0M408 705h0M410.6 705h0M413.2 705h0M415.8 705h0M418.4 705h0M421 705h0M423.6 705h0M426.2 705h0M428.8 705h0M434 705h0M439.2 705h0M444.4 705h0M449.6 705h0M400.2 707.6h0M402.8 707.6h0M405.4 707.6h0M408 707.6h0M410.6 707.6h0M413.2 707.6h0M415.8 707.6h0M418.4 707.6h0M421 707.6h0M423.6 707.6h0M426.2 707.6h0M428.8 707.6h0M431.4 707.6h0M434 707.6h0M436.6 707.6h0M441.8 707.6h0M444.4 707.6h0M457.4 707.6h0M397.6 710.2h0M402.8 710.2h0M405.4 710.2h0M408 710.2h0M410.6 710.2h0M413.2 710.2h0M415.8 710.2h0M418.4 710.2h0M421 710.2h0M423.6 710.2h0M426.2 710.2h0M428.8 710.2h0M434 710.2h0M400.2 712.8h0M402.8 712.8h0M405.4 712.8h0M408 712.8h0M410.6 712.8h0M413.2 712.8h0M415.8 712.8h0M418.4 712.8h0M421 712.8h0M423.6 712.8h0M426.2 712.8h0M428.8 712.8h0M431.4 712.8h0M436.6 712.8h0M447 712.8h0M452.2 712.8h0M397.6 715.4h0M402.8 715.4h0M405.4 715.4h0M408 715.4h0M410.6 715.4h0M413.2 715.4h0M415.8 715.4h0M418.4 715.4h0M421 715.4h0M423.6 715.4h0M426.2 715.4h0M428.8 715.4h0M434 715.4h0M400.2 718h0M402.8 718h0M405.4 718h0M408 718h0M410.6 718h0M413.2 718h0M415.8 718h0M418.4 718h0M421 718h0M423.6 718h0M426.2 718h0M431.4 718h0M436.6 718h0M447 718h0M402.8 720.6h0M405.4 720.6h0M408 720.6h0M410.6 720.6h0M413.2 720.6h0M415.8 720.6h0M418.4 720.6h0M421 720.6h0M423.6 720.6h0M426.2 720.6h0M428.8 720.6h0M434 720.6h0M439.2 720.6h0M444.4 720.6h0M395 723.2h0M400.2 723.2h0M402.8 723.2h0M405.4 723.2h0M408 723.2h0M410.6 723.2h0M413.2 723.2h0M415.8 723.2h0M418.4 723.2h0M421 723.2h0M423.6 723.2h0M426.2 723.2h0M428.8 723.2h0M431.4 723.2h0M434 723.2h0M436.6 723.2h0M439.2 723.2h0M441.8 723.2h0M452.2 723.2h0M457.4 723.2h0M402.8 725.8h0M405.4 725.8h0M408 725.8h0M410.6 725.8h0M413.2 725.8h0M415.8 725.8h0M418.4 725.8h0M421 725.8h0M423.6 725.8h0M426.2 725.8h0M428.8 725.8h0M434 725.8h0M400.2 728.4h0M402.8 728.4h0M405.4 728.4h0M408 728.4h0M410.6 728.4h0M413.2 728.4h0M415.8 728.4h0M418.4 728.4h0M421 728.4h0M423.6 728.4h0M426.2 728.4h0M431.4 728.4h0M436.6 728.4h0M441.8 728.4h0M447 728.4h0M452.2 728.4h0M405.4 731h0M408 731h0M410.6 731h0M413.2 731h0M415.8 731h0M418.4 731h0M421 731h0M423.6 731h0M444.4 731h0M402.8 733.6h0M405.4 733.6h0M408 733.6h0M410.6 733.6h0M413.2 733.6h0M415.8 733.6h0M418.4 733.6h0M421 733.6h0M423.6 733.6h0M426.2 733.6h0M431.4 733.6h0M441.8 733.6h0M405.4 736.2h0M408 736.2h0M410.6 736.2h0M413.2 736.2h0M415.8 736.2h0M418.4 736.2h0M421 736.2h0M423.6 736.2h0M428.8 736.2h0M444.4 736.2h0M405.4 738.8h0M408 738.8h0M410.6 738.8h0M413.2 738.8h0M415.8 738.8h0M418.4 738.8h0M421 738.8h0M423.6 738.8h0M426.2 738.8h0M441.8 738.8h0M402.8 741.4h0M408 741.4h0M413.2 741.4h0M415.8 741.4h0M418.4 741.4h0M423.6 741.4h0M395 744h0M405.4 744h0M408 744h0M410.6 744h0M413.2 744h0M415.8 744h0M418.4 744h0M421 744h0M426.2 744h0M428.8 744h0M447 744h0" stroke="#000" stroke-width="1.65" stroke-linecap="round"/>
<path d="M413 679h1v1h-1zM418 679h1v1h-1zM412 680h8v1h-8zM411 681h9v1h-9zM411 682h6v1h-6zM418 682h2v1h-2zM410 683h7v1h-7zM418 683h1v1h-1zM410 684h3v1h-3zM414 684h5v1h-5zM420 684h1v1h-1zM408 685h13v1h-13zM407 686h1v1h-1zM409 686h2v1h-2zM412 686h9v1h-9zM406 687h1v1h-1zM408 687h12v1h-12zM407 688h13v1h-13zM407 689h13v1h-13zM407 690h14v1h-14zM407 691h14v1h-14zM407 692h1v1h-1zM409 692h2v1h-2zM412 692h9v1h-9zM407 693h13v1h-13zM407 694h13v1h-13zM407 695h12v1h-12zM407 696h13v1h-13zM407 697h12v1h-12zM407 698h11v1h-11zM407 699h2v1h-2zM410 699h8v1h-8zM407 700h9v1h-9zM417 700h1v1h-1zM408 701h1v1h-1zM410 701h4v1h-4zM415 701h2v1h-2zM407 702h11v1h-11zM408 703h6v1h-6zM415 703h3v1h-3zM409 704h4v1h-4zM414 704h3v1h-3zM409 705h7v1h-7zM409 706h6v1h-6zM409 707h7v1h-7zM409 708h2v1h-2zM412 708h3v1h-3zM410 709h6v1h-6zM410 710h1v1h-1zM412 710h4v1h-4zM410 711h5v1h-5zM400 745h1v1h-1zM402 745h27v1h-27zM399 746h32v1h-32z" fill="url(#chk)"/>
<path d="M408 745h1v1h-1zM410 745h2v1h-2zM419 745h3v1h-3zM402 746h17v1h-17zM420 746h5v1h-5zM426 746h2v1h-2z"/>
<path d="M422.6 601.8h0M422.6 606.8h0M450.9 599.4h0M438.7 606.8h0M410.9 614.6h0M442.8 614.6h0M426.9 619.6h0M430.7 616.9h0M410.9 634.8h0M426.9 639.8h0M430.7 647.6h0M426.9 649.9h0M406.8 652.6h0M442.8 654.9h0" stroke="#000" stroke-width="1.65" stroke-linecap="round"/>
<path d="M134.2 897.2h0M118.6 912.8h0M113.4 918h0M118.6 918h0M126.4 920.6h0M129 923.2h0M121.2 925.8h0M92.6 928.4h0M108.2 928.4h0M113.4 928.4h0M116 931h0M118.6 931h0M121.2 931h0M113.4 933.6h0M118.6 933.6h0M123.8 933.6h0M139.4 933.6h0M149.8 933.6h0M116 936.2h0M118.6 936.2h0M121.2 936.2h0M123.8 936.2h0M126.4 936.2h0M142 936.2h0M108.2 938.8h0M113.4 938.8h0M116 938.8h0M118.6 938.8h0M121.2 938.8h0M123.8 938.8h0M126.4 938.8h0M129 938.8h0M131.6 938.8h0M134.2 938.8h0M139.4 938.8h0M110.8 941.4h0M116 941.4h0M118.6 941.4h0M121.2 941.4h0M123.8 941.4h0M126.4 941.4h0M129 941.4h0M131.6 941.4h0M108.2 944h0M113.4 944h0M116 944h0M118.6 944h0M121.2 944h0M123.8 944h0M126.4 944h0M129 944h0M134.2 944h0M116 946.6h0M118.6 946.6h0M121.2 946.6h0M123.8 946.6h0M126.4 946.6h0M131.6 946.6h0M142 946.6h0M97.8 949.2h0M103 949.2h0M108.2 949.2h0M110.8 949.2h0M113.4 949.2h0M116 949.2h0M118.6 949.2h0M121.2 949.2h0M123.8 949.2h0M126.4 949.2h0M129 949.2h0M131.6 949.2h0M134.2 949.2h0M136.8 949.2h0M139.4 949.2h0M110.8 951.8h0M113.4 951.8h0M116 951.8h0M118.6 951.8h0M121.2 951.8h0M123.8 951.8h0M126.4 951.8h0M129 951.8h0M131.6 951.8h0M136.8 951.8h0M108.2 954.4h0M110.8 954.4h0M113.4 954.4h0M116 954.4h0M118.6 954.4h0M121.2 954.4h0M123.8 954.4h0M126.4 954.4h0M129 954.4h0M131.6 954.4h0M134.2 954.4h0M136.8 954.4h0M139.4 954.4h0M110.8 957h0M113.4 957h0M116 957h0M118.6 957h0M121.2 957h0M123.8 957h0M126.4 957h0M129 957h0M131.6 957h0M136.8 957h0M152.4 957h0M92.6 959.6h0M105.6 959.6h0M108.2 959.6h0M110.8 959.6h0M113.4 959.6h0M116 959.6h0M118.6 959.6h0M121.2 959.6h0M123.8 959.6h0M126.4 959.6h0M129 959.6h0M131.6 959.6h0M134.2 959.6h0M136.8 959.6h0M139.4 959.6h0M108.2 962.2h0M110.8 962.2h0M113.4 962.2h0M116 962.2h0M118.6 962.2h0M121.2 962.2h0M123.8 962.2h0M126.4 962.2h0M129 962.2h0M131.6 962.2h0M134.2 962.2h0M136.8 962.2h0M142 962.2h0M108.2 964.8h0M110.8 964.8h0M113.4 964.8h0M116 964.8h0M118.6 964.8h0M121.2 964.8h0M123.8 964.8h0M126.4 964.8h0M129 964.8h0M131.6 964.8h0M134.2 964.8h0M139.4 964.8h0M142 964.8h0M144.6 964.8h0M105.6 967.4h0M108.2 967.4h0M110.8 967.4h0M113.4 967.4h0M116 967.4h0M118.6 967.4h0M121.2 967.4h0M123.8 967.4h0M126.4 967.4h0M129 967.4h0M131.6 967.4h0M134.2 967.4h0M136.8 967.4h0M142 967.4h0M147.2 967.4h0M92.6 970h0M105.6 970h0M108.2 970h0M110.8 970h0M113.4 970h0M116 970h0M118.6 970h0M121.2 970h0M123.8 970h0M126.4 970h0M129 970h0M131.6 970h0M134.2 970h0M136.8 970h0M139.4 970h0M144.6 970h0M105.6 972.6h0M108.2 972.6h0M110.8 972.6h0M113.4 972.6h0M116 972.6h0M118.6 972.6h0M121.2 972.6h0M123.8 972.6h0M126.4 972.6h0M129 972.6h0M131.6 972.6h0M134.2 972.6h0M136.8 972.6h0M142 972.6h0M103 975.2h0M105.6 975.2h0M108.2 975.2h0M110.8 975.2h0M113.4 975.2h0M116 975.2h0M118.6 975.2h0M121.2 975.2h0M123.8 975.2h0M126.4 975.2h0M129 975.2h0M131.6 975.2h0M134.2 975.2h0M136.8 975.2h0M139.4 975.2h0M142 975.2h0M147.2 975.2h0M149.8 975.2h0M105.6 977.8h0M108.2 977.8h0M110.8 977.8h0M113.4 977.8h0M116 977.8h0M118.6 977.8h0M121.2 977.8h0M123.8 977.8h0M126.4 977.8h0M129 977.8h0M131.6 977.8h0M134.2 977.8h0M136.8 977.8h0M139.4 977.8h0M142 977.8h0M92.6 980.4h0M97.8 980.4h0M103 980.4h0M105.6 980.4h0M108.2 980.4h0M110.8 980.4h0M113.4 980.4h0M116 980.4h0M118.6 980.4h0M121.2 980.4h0M123.8 980.4h0M126.4 980.4h0M129 980.4h0M131.6 980.4h0M134.2 980.4h0M136.8 980.4h0M139.4 980.4h0M144.6 980.4h0M105.6 983h0M108.2 983h0M110.8 983h0M113.4 983h0M116 983h0M118.6 983h0M121.2 983h0M123.8 983h0M126.4 983h0M129 983h0M131.6 983h0M134.2 983h0M136.8 983h0M142 983h0M147.2 983h0M103 985.6h0M108.2 985.6h0M110.8 985.6h0M113.4 985.6h0M116 985.6h0M118.6 985.6h0M121.2 985.6h0M123.8 985.6h0M126.4 985.6h0M129 985.6h0M131.6 985.6h0M134.2 985.6h0M136.8 985.6h0M139.4 985.6h0M160.2 985.6h0M105.6 988.2h0M108.2 988.2h0M110.8 988.2h0M113.4 988.2h0M116 988.2h0M118.6 988.2h0M121.2 988.2h0M123.8 988.2h0M126.4 988.2h0M129 988.2h0M131.6 988.2h0M134.2 988.2h0M136.8 988.2h0M139.4 988.2h0M103 990.8h0M105.6 990.8h0M108.2 990.8h0M110.8 990.8h0M113.4 990.8h0M116 990.8h0M118.6 990.8h0M121.2 990.8h0M123.8 990.8h0M126.4 990.8h0M129 990.8h0M131.6 990.8h0M134.2 990.8h0M136.8 990.8h0M139.4 990.8h0M144.6 990.8h0M149.8 990.8h0M105.6 993.4h0M108.2 993.4h0M110.8 993.4h0M113.4 993.4h0M116 993.4h0M118.6 993.4h0M121.2 993.4h0M123.8 993.4h0M126.4 993.4h0M129 993.4h0M131.6 993.4h0M134.2 993.4h0M136.8 993.4h0M142 993.4h0M97.8 996h0M103 996h0M108.2 996h0M110.8 996h0M113.4 996h0M116 996h0M118.6 996h0M121.2 996h0M123.8 996h0M126.4 996h0M129 996h0M131.6 996h0M134.2 996h0M136.8 996h0M139.4 996h0M149.8 996h0M100.4 998.6h0M105.6 998.6h0M108.2 998.6h0M110.8 998.6h0M113.4 998.6h0M116 998.6h0M118.6 998.6h0M121.2 998.6h0M123.8 998.6h0M126.4 998.6h0M129 998.6h0M131.6 998.6h0M134.2 998.6h0M136.8 998.6h0M142 998.6h0M92.6 1001.2h0M103 1001.2h0M105.6 1001.2h0M108.2 1001.2h0M110.8 1001.2h0M113.4 1001.2h0M116 1001.2h0M118.6 1001.2h0M121.2 1001.2h0M123.8 1001.2h0M126.4 1001.2h0M129 1001.2h0M131.6 1001.2h0M134.2 1001.2h0M136.8 1001.2h0M139.4 1001.2h0M144.6 1001.2h0M110.8 1003.8h0M113.4 1003.8h0M116 1003.8h0M118.6 1003.8h0M121.2 1003.8h0M123.8 1003.8h0M126.4 1003.8h0M129 1003.8h0M131.6 1003.8h0M134.2 1003.8h0M136.8 1003.8h0M97.8 1006.4h0M103 1006.4h0M105.6 1006.4h0M108.2 1006.4h0M110.8 1006.4h0M113.4 1006.4h0M116 1006.4h0M118.6 1006.4h0M121.2 1006.4h0M123.8 1006.4h0M126.4 1006.4h0M129 1006.4h0M131.6 1006.4h0M134.2 1006.4h0M105.6 1009h0M108.2 1009h0M110.8 1009h0M113.4 1009h0M116 1009h0M118.6 1009h0M121.2 1009h0M123.8 1009h0M126.4 1009h0M129 1009h0M131.6 1009h0M136.8 1009h0M105.6 1011.6h0M108.2 1011.6h0M110.8 1011.6h0M113.4 1011.6h0M116 1011.6h0M118.6 1011.6h0M121.2 1011.6h0M123.8 1011.6h0M126.4 1011.6h0M129 1011.6h0M131.6 1011.6h0M134.2 1011.6h0M136.8 1011.6h0M144.6 1011.6h0M110.8 1014.2h0M113.4 1014.2h0M116 1014.2h0M118.6 1014.2h0M121.2 1014.2h0M123.8 1014.2h0M126.4 1014.2h0M129 1014.2h0M131.6 1014.2h0M136.8 1014.2h0M108.2 1016.8h0M113.4 1016.8h0M116 1016.8h0M118.6 1016.8h0M121.2 1016.8h0M123.8 1016.8h0M126.4 1016.8h0M129 1016.8h0M131.6 1016.8h0M134.2 1016.8h0M139.4 1016.8h0M144.6 1016.8h0M108.2 1019.4h0M110.8 1019.4h0M113.4 1019.4h0M116 1019.4h0M118.6 1019.4h0M121.2 1019.4h0M123.8 1019.4h0M126.4 1019.4h0M129 1019.4h0M131.6 1019.4h0M103 1022h0M105.6 1022h0M108.2 1022h0M113.4 1022h0M116 1022h0M118.6 1022h0M121.2 1022h0M123.8 1022h0M126.4 1022h0M129 1022h0M131.6 1022h0M134.2 1022h0M136.8 1022h0M139.4 1022h0M144.6 1022h0M100.4 1024.6h0M103 1024.6h0M105.6 1024.6h0M108.2 1024.6h0M110.8 1024.6h0M113.4 1024.6h0M116 1024.6h0M118.6 1024.6h0M121.2 1024.6h0M123.8 1024.6h0M126.4 1024.6h0M129 1024.6h0M131.6 1024.6h0M134.2 1024.6h0M136.8 1024.6h0M139.4 1024.6h0M142 1024.6h0M144.6 1024.6h0M147.2 1024.6h0" stroke="#000" stroke-width="1.65" stroke-linecap="round"/>
<path d="M117 956h1v1h-1zM120 956h1v1h-1zM123 956h1v1h-1zM116 957h6v1h-6zM123 957h1v1h-1zM125 957h1v1h-1zM116 958h11v1h-11zM117 959h10v1h-10zM116 960h2v1h-2zM119 960h7v1h-7zM116 961h11v1h-11zM115 962h11v1h-11zM116 963h1v1h-1zM119 963h8v1h-8zM116 964h4v1h-4zM121 964h5v1h-5zM115 965h12v1h-12zM115 966h12v1h-12zM115 967h11v1h-11zM115 968h11v1h-11zM115 969h11v1h-11zM115 970h10v1h-10zM126 970h1v1h-1zM115 971h11v1h-11zM114 972h1v1h-1zM116 972h4v1h-4zM121 972h6v1h-6zM115 973h5v1h-5zM122 973h2v1h-2zM125 973h1v1h-1zM115 974h10v1h-10zM116 975h8v1h-8zM115 976h9v1h-9zM126 976h1v1h-1zM115 977h2v1h-2zM118 977h6v1h-6zM115 978h3v1h-3zM119 978h6v1h-6zM114 979h1v1h-1zM116 979h6v1h-6zM123 979h4v1h-4zM116 980h3v1h-3zM120 980h3v1h-3zM116 981h1v1h-1zM118 981h2v1h-2zM121 981h2v1h-2zM124 981h1v1h-1zM117 982h7v1h-7zM116 983h5v1h-5zM122 983h1v1h-1zM117 984h7v1h-7zM118 985h3v1h-3zM123 985h1v1h-1zM119 986h1v1h-1zM121 986h1v1h-1zM123 986h4v1h-4zM120 987h1v1h-1zM122 987h1v1h-1zM126 987h1v1h-1zM122 988h1v1h-1zM127 988h1v1h-1zM119 990h1v1h-1zM124 990h1v1h-1zM124 991h1v1h-1zM119 992h1v1h-1zM121 992h1v1h-1zM124 993h1v1h-1zM119 994h3v1h-3zM119 995h1v1h-1zM122 995h2v1h-2zM126 995h1v1h-1zM121 996h1v1h-1zM125 996h1v1h-1zM119 997h1v1h-1zM125 997h1v1h-1zM117 999h1v1h-1zM118 1000h1v1h-1zM122 1001h1v1h-1zM119 1002h1v1h-1zM118 1003h1v1h-1zM120 1004h1v1h-1zM123 1005h1v1h-1zM102 1024h1v1h-1zM104 1024h1v1h-1zM108 1024h22v1h-22zM134 1024h2v1h-2zM139 1024h1v1h-1zM143 1024h1v1h-1zM101 1025h31v1h-31zM133 1025h1v1h-1zM135 1025h1v1h-1zM137 1025h1v1h-1zM139 1025h2v1h-2zM142 1025h2v1h-2z" fill="url(#chk)"/>
<path d="M109 1024h1v1h-1zM111 1024h2v1h-2zM115 1024h2v1h-2zM120 1024h1v1h-1zM125 1024h1v1h-1zM127 1024h2v1h-2zM109 1025h20v1h-20z"/>
<path d="M125.9 877.7h0M160 967h0M165 975h0M168 982h0M150 1024h0M160 1025h0M170 1025h0" stroke="#000" stroke-width="1.65" stroke-linecap="round"/>
<path d="M408.4 868h0M431.8 868h0M434.4 868h0M421.4 870.6h0M426.6 870.6h0M431.8 870.6h0M418.8 873.2h0M424 873.2h0M434.4 873.2h0M439.6 873.2h0M416.2 875.8h0M426.6 875.8h0M408.4 878.4h0M413.6 878.4h0M418.8 878.4h0M429.2 878.4h0M434.4 878.4h0M439.6 878.4h0M450 878.4h0M411 881h0M421.4 881h0M426.6 881h0M408.4 883.6h0M424 883.6h0M429.2 883.6h0M431.8 883.6h0M434.4 883.6h0M444.8 883.6h0M416.2 886.2h0M424 886.2h0M426.6 886.2h0M431.8 886.2h0M437 886.2h0M387.6 888.8h0M413.6 888.8h0M418.8 888.8h0M424 888.8h0M429.2 888.8h0M439.6 888.8h0M450 888.8h0M416.2 891.4h0M418.8 891.4h0M421.4 891.4h0M426.6 891.4h0M431.8 891.4h0M413.6 894h0M418.8 894h0M424 894h0M426.6 894h0M429.2 894h0M434.4 894h0M444.8 894h0M405.8 896.6h0M416.2 896.6h0M421.4 896.6h0M426.6 896.6h0M431.8 896.6h0M437 896.6h0M398 899.2h0M413.6 899.2h0M418.8 899.2h0M421.4 899.2h0M424 899.2h0M429.2 899.2h0M431.8 899.2h0M434.4 899.2h0M450 899.2h0M411 901.8h0M416.2 901.8h0M421.4 901.8h0M426.6 901.8h0M437 901.8h0M403.2 904.4h0M405.8 904.4h0M408.4 904.4h0M413.6 904.4h0M418.8 904.4h0M424 904.4h0M426.6 904.4h0M429.2 904.4h0M434.4 904.4h0M405.8 907h0M411 907h0M416.2 907h0M418.8 907h0M424 907h0M426.6 907h0M431.8 907h0M437 907h0M403.2 909.6h0M408.4 909.6h0M413.6 909.6h0M416.2 909.6h0M418.8 909.6h0M421.4 909.6h0M424 909.6h0M426.6 909.6h0M429.2 909.6h0M434.4 909.6h0M437 909.6h0M450 909.6h0M470.8 909.6h0M405.8 912.2h0M408.4 912.2h0M411 912.2h0M416.2 912.2h0M418.8 912.2h0M421.4 912.2h0M426.6 912.2h0M429.2 912.2h0M431.8 912.2h0M442.2 912.2h0M392.8 914.8h0M408.4 914.8h0M411 914.8h0M413.6 914.8h0M416.2 914.8h0M418.8 914.8h0M421.4 914.8h0M424 914.8h0M426.6 914.8h0M429.2 914.8h0M431.8 914.8h0M434.4 914.8h0M465.6 914.8h0M403.2 917.4h0M405.8 917.4h0M408.4 917.4h0M411 917.4h0M413.6 917.4h0M416.2 917.4h0M418.8 917.4h0M421.4 917.4h0M424 917.4h0M426.6 917.4h0M429.2 917.4h0M431.8 917.4h0M437 917.4h0M447.4 917.4h0M398 920h0M400.6 920h0M403.2 920h0M408.4 920h0M411 920h0M413.6 920h0M416.2 920h0M418.8 920h0M421.4 920h0M424 920h0M426.6 920h0M429.2 920h0M431.8 920h0M434.4 920h0M405.8 922.6h0M408.4 922.6h0M411 922.6h0M413.6 922.6h0M416.2 922.6h0M418.8 922.6h0M421.4 922.6h0M424 922.6h0M426.6 922.6h0M429.2 922.6h0M431.8 922.6h0M437 922.6h0M442.2 922.6h0M398 925.2h0M400.6 925.2h0M403.2 925.2h0M405.8 925.2h0M408.4 925.2h0M411 925.2h0M413.6 925.2h0M416.2 925.2h0M418.8 925.2h0M421.4 925.2h0M424 925.2h0M426.6 925.2h0M429.2 925.2h0M431.8 925.2h0M434.4 925.2h0M437 925.2h0M439.6 925.2h0M444.8 925.2h0M450 925.2h0M400.6 927.8h0M403.2 927.8h0M405.8 927.8h0M408.4 927.8h0M411 927.8h0M413.6 927.8h0M416.2 927.8h0M418.8 927.8h0M421.4 927.8h0M424 927.8h0M426.6 927.8h0M429.2 927.8h0M431.8 927.8h0M437 927.8h0M447.4 927.8h0M392.8 930.4h0M395.4 930.4h0M398 930.4h0M400.6 930.4h0M403.2 930.4h0M405.8 930.4h0M408.4 930.4h0M411 930.4h0M413.6 930.4h0M416.2 930.4h0M418.8 930.4h0M421.4 930.4h0M424 930.4h0M426.6 930.4h0M429.2 930.4h0M431.8 930.4h0M434.4 930.4h0M439.6 930.4h0M450 930.4h0M460.4 930.4h0M400.6 933h0M403.2 933h0M405.8 933h0M408.4 933h0M411 933h0M413.6 933h0M416.2 933h0M418.8 933h0M421.4 933h0M424 933h0M426.6 933h0M429.2 933h0M431.8 933h0M434.4 933h0M437 933h0M442.2 933h0M447.4 933h0M382.4 935.6h0M392.8 935.6h0M395.4 935.6h0M398 935.6h0M400.6 935.6h0M403.2 935.6h0M405.8 935.6h0M408.4 935.6h0M411 935.6h0M413.6 935.6h0M416.2 935.6h0M418.8 935.6h0M421.4 935.6h0M424 935.6h0M426.6 935.6h0M429.2 935.6h0M431.8 935.6h0M434.4 935.6h0M437 935.6h0M439.6 935.6h0M444.8 935.6h0M395.4 938.2h0M400.6 938.2h0M403.2 938.2h0M405.8 938.2h0M408.4 938.2h0M411 938.2h0M413.6 938.2h0M416.2 938.2h0M418.8 938.2h0M421.4 938.2h0M424 938.2h0M426.6 938.2h0M429.2 938.2h0M431.8 938.2h0M434.4 938.2h0M437 938.2h0M439.6 938.2h0M442.2 938.2h0M392.8 940.8h0M395.4 940.8h0M398 940.8h0M400.6 940.8h0M403.2 940.8h0M405.8 940.8h0M408.4 940.8h0M411 940.8h0M413.6 940.8h0M416.2 940.8h0M418.8 940.8h0M421.4 940.8h0M424 940.8h0M426.6 940.8h0M429.2 940.8h0M431.8 940.8h0M434.4 940.8h0M437 940.8h0M439.6 940.8h0M442.2 940.8h0M444.8 940.8h0M460.4 940.8h0M395.4 943.4h0M398 943.4h0M400.6 943.4h0M403.2 943.4h0M405.8 943.4h0M408.4 943.4h0M411 943.4h0M413.6 943.4h0M416.2 943.4h0M418.8 943.4h0M421.4 943.4h0M424 943.4h0M426.6 943.4h0M429.2 943.4h0M431.8 943.4h0M434.4 943.4h0M437 943.4h0M439.6 943.4h0M442.2 943.4h0M398 946h0M400.6 946h0M403.2 946h0M405.8 946h0M408.4 946h0M411 946h0M413.6 946h0M416.2 946h0M418.8 946h0M421.4 946h0M424 946h0M426.6 946h0M429.2 946h0M431.8 946h0M434.4 946h0M437 946h0M439.6 946h0M444.8 946h0M455.2 946h0M395.4 948.6h0M400.6 948.6h0M403.2 948.6h0M405.8 948.6h0M408.4 948.6h0M411 948.6h0M413.6 948.6h0M416.2 948.6h0M418.8 948.6h0M421.4 948.6h0M424 948.6h0M426.6 948.6h0M429.2 948.6h0M431.8 948.6h0M434.4 948.6h0M437 948.6h0M442.2 948.6h0M447.4 948.6h0M398 951.2h0M400.6 951.2h0M403.2 951.2h0M405.8 951.2h0M408.4 951.2h0M411 951.2h0M413.6 951.2h0M416.2 951.2h0M418.8 951.2h0M421.4 951.2h0M424 951.2h0M426.6 951.2h0M429.2 951.2h0M431.8 951.2h0M434.4 951.2h0M437 951.2h0M439.6 951.2h0M390.2 953.8h0M398 953.8h0M400.6 953.8h0M403.2 953.8h0M405.8 953.8h0M408.4 953.8h0M411 953.8h0M413.6 953.8h0M416.2 953.8h0M418.8 953.8h0M421.4 953.8h0M424 953.8h0M426.6 953.8h0M429.2 953.8h0M431.8 953.8h0M434.4 953.8h0M437 953.8h0M442.2 953.8h0M392.8 956.4h0M398 956.4h0M400.6 956.4h0M403.2 956.4h0M405.8 956.4h0M408.4 956.4h0M411 956.4h0M413.6 956.4h0M416.2 956.4h0M418.8 956.4h0M421.4 956.4h0M424 956.4h0M426.6 956.4h0M429.2 956.4h0M431.8 956.4h0M434.4 956.4h0M437 956.4h0M439.6 956.4h0M444.8 956.4h0M455.2 956.4h0M395.4 959h0M400.6 959h0M403.2 959h0M405.8 959h0M408.4 959h0M411 959h0M413.6 959h0M416.2 959h0M418.8 959h0M421.4 959h0M424 959h0M426.6 959h0M429.2 959h0M431.8 959h0M434.4 959h0M437 959h0M442.2 959h0M447.4 959h0M387.6 961.6h0M392.8 961.6h0M395.4 961.6h0M398 961.6h0M400.6 961.6h0M403.2 961.6h0M405.8 961.6h0M408.4 961.6h0M411 961.6h0M413.6 961.6h0M416.2 961.6h0M418.8 961.6h0M421.4 961.6h0M424 961.6h0M426.6 961.6h0M429.2 961.6h0M431.8 961.6h0M434.4 961.6h0M437 961.6h0M439.6 961.6h0M405.8 964.2h0M408.4 964.2h0M411 964.2h0M413.6 964.2h0M416.2 964.2h0M418.8 964.2h0M421.4 964.2h0M424 964.2h0M426.6 964.2h0M429.2 964.2h0M431.8 964.2h0M434.4 964.2h0M437 964.2h0M439.6 964.2h0M398 966.8h0M400.6 966.8h0M403.2 966.8h0M405.8 966.8h0M408.4 966.8h0M411 966.8h0M413.6 966.8h0M416.2 966.8h0M418.8 966.8h0M421.4 966.8h0M424 966.8h0M426.6 966.8h0M429.2 966.8h0M431.8 966.8h0M434.4 966.8h0M437 966.8h0M439.6 966.8h0M444.8 966.8h0M395.4 969.4h0M403.2 969.4h0M405.8 969.4h0M408.4 969.4h0M411 969.4h0M413.6 969.4h0M416.2 969.4h0M418.8 969.4h0M421.4 969.4h0M424 969.4h0M426.6 969.4h0M429.2 969.4h0M431.8 969.4h0M434.4 969.4h0M437 969.4h0M392.8 972h0M398 972h0M400.6 972h0M403.2 972h0M405.8 972h0M408.4 972h0M411 972h0M413.6 972h0M416.2 972h0M418.8 972h0M421.4 972h0M424 972h0M426.6 972h0M429.2 972h0M431.8 972h0M434.4 972h0M437 972h0M439.6 972h0M444.8 972h0M460.4 972h0M405.8 974.6h0M411 974.6h0M413.6 974.6h0M416.2 974.6h0M418.8 974.6h0M421.4 974.6h0M424 974.6h0M426.6 974.6h0M429.2 974.6h0M431.8 974.6h0M434.4 974.6h0M439.6 974.6h0M398 977.2h0M403.2 977.2h0M408.4 977.2h0M411 977.2h0M413.6 977.2h0M416.2 977.2h0M418.8 977.2h0M421.4 977.2h0M424 977.2h0M426.6 977.2h0M429.2 977.2h0M431.8 977.2h0M434.4 977.2h0M439.6 977.2h0M403.2 979.8h0M405.8 979.8h0M408.4 979.8h0M411 979.8h0M413.6 979.8h0M416.2 979.8h0M421.4 979.8h0M424 979.8h0M426.6 979.8h0M429.2 979.8h0M431.8 979.8h0M437 979.8h0M392.8 982.4h0M398 982.4h0M400.6 982.4h0M403.2 982.4h0M405.8 982.4h0M408.4 982.4h0M411 982.4h0M413.6 982.4h0M416.2 982.4h0M418.8 982.4h0M421.4 982.4h0M424 982.4h0M426.6 982.4h0M429.2 982.4h0M431.8 982.4h0M434.4 982.4h0M439.6 982.4h0M400.6 985h0M411 985h0M416.2 985h0M418.8 985h0M421.4 985h0M424 985h0M426.6 985h0M429.2 985h0M431.8 985h0M437 985h0M405.8 987.6h0M408.4 987.6h0M413.6 987.6h0M416.2 987.6h0M418.8 987.6h0M421.4 987.6h0M424 987.6h0M426.6 987.6h0M429.2 987.6h0M434.4 987.6h0M439.6 987.6h0M444.8 987.6h0M405.8 990.2h0M411 990.2h0M416.2 990.2h0M421.4 990.2h0M426.6 990.2h0M431.8 990.2h0M437 990.2h0M403.2 992.8h0M408.4 992.8h0M413.6 992.8h0M416.2 992.8h0M418.8 992.8h0M421.4 992.8h0M424 992.8h0M426.6 992.8h0M429.2 992.8h0M431.8 992.8h0M434.4 992.8h0M437 992.8h0M439.6 992.8h0M411 995.4h0M416.2 995.4h0M421.4 995.4h0M424 995.4h0M426.6 995.4h0M431.8 995.4h0M437 995.4h0M403.2 998h0M413.6 998h0M416.2 998h0M418.8 998h0M421.4 998h0M424 998h0M429.2 998h0M434.4 998h0M439.6 998h0M455.2 998h0M416.2 1000.6h0M421.4 1000.6h0M424 1000.6h0M426.6 1000.6h0M431.8 1000.6h0M403.2 1003.2h0M408.4 1003.2h0M413.6 1003.2h0M418.8 1003.2h0M424 1003.2h0M429.2 1003.2h0M439.6 1003.2h0M460.4 1003.2h0M411 1005.8h0M421.4 1005.8h0M429.2 1005.8h0M437 1005.8h0M408.4 1008.4h0M413.6 1008.4h0M418.8 1008.4h0M421.4 1008.4h0M424 1008.4h0M426.6 1008.4h0M429.2 1008.4h0M431.8 1008.4h0M437 1008.4h0M411 1011h0M426.6 1011h0M408.4 1013.6h0M411 1013.6h0M413.6 1013.6h0M416.2 1013.6h0M418.8 1013.6h0M424 1013.6h0M431.8 1013.6h0M434.4 1013.6h0M411 1016.2h0M416.2 1016.2h0M418.8 1016.2h0M421.4 1016.2h0M426.6 1016.2h0M429.2 1016.2h0M431.8 1016.2h0M442.2 1016.2h0M403.2 1018.8h0M411 1018.8h0M413.6 1018.8h0M418.8 1018.8h0M424 1018.8h0M426.6 1018.8h0M455.2 1018.8h0M416.2 1021.4h0M421.4 1021.4h0M426.6 1021.4h0M403.2 1024h0M408.4 1024h0M413.6 1024h0M418.8 1024h0M424 1024h0M426.6 1024h0M429.2 1024h0M434.4 1024h0M437 1024h0M439.6 1024h0M403.2 1026.6h0M405.8 1026.6h0M408.4 1026.6h0M411 1026.6h0M413.6 1026.6h0M416.2 1026.6h0M418.8 1026.6h0M421.4 1026.6h0M424 1026.6h0M426.6 1026.6h0M429.2 1026.6h0M431.8 1026.6h0M434.4 1026.6h0M437 1026.6h0M439.6 1026.6h0M442.2 1026.6h0" stroke="#000" stroke-width="1.65" stroke-linecap="round"/>
<path d="M420 926h1v1h-1zM420 927h1v1h-1zM422 927h1v1h-1zM415 928h8v1h-8zM424 928h1v1h-1zM411 929h1v1h-1zM413 929h5v1h-5zM419 929h7v1h-7zM410 930h16v1h-16zM410 931h2v1h-2zM413 931h13v1h-13zM409 932h11v1h-11zM421 932h5v1h-5zM409 933h1v1h-1zM411 933h16v1h-16zM409 934h17v1h-17zM409 935h17v1h-17zM407 936h2v1h-2zM410 936h15v1h-15zM426 936h1v1h-1zM407 937h1v1h-1zM409 937h2v1h-2zM412 937h4v1h-4zM417 937h9v1h-9zM407 938h11v1h-11zM419 938h7v1h-7zM407 939h1v1h-1zM410 939h13v1h-13zM424 939h2v1h-2zM407 940h12v1h-12zM420 940h5v1h-5zM426 940h1v1h-1zM408 941h18v1h-18zM407 942h14v1h-14zM422 942h3v1h-3zM407 943h12v1h-12zM420 943h4v1h-4zM406 944h1v1h-1zM408 944h14v1h-14zM423 944h1v1h-1zM407 945h6v1h-6zM414 945h9v1h-9zM407 946h16v1h-16zM408 947h6v1h-6zM415 947h7v1h-7zM408 948h14v1h-14zM408 949h1v1h-1zM411 949h9v1h-9zM421 949h1v1h-1zM409 950h12v1h-12zM409 951h9v1h-9zM419 951h1v1h-1zM409 952h10v1h-10zM411 953h6v1h-6zM411 954h6v1h-6zM411 955h1v1h-1zM413 955h3v1h-3zM407 1026h1v1h-1zM409 1026h24v1h-24zM434 1026h1v1h-1zM437 1026h1v1h-1zM405 1027h1v1h-1zM407 1027h27v1h-27zM435 1027h5v1h-5z" fill="url(#chk)"/>
<path d="M413 1026h2v1h-2zM420 1026h1v1h-1zM424 1026h1v1h-1zM426 1026h1v1h-1zM431 1026h1v1h-1zM409 1027h24v1h-24z"/>
<path d="M335 1005h0" stroke="#000" stroke-width="1.65" stroke-linecap="round"/>
<path d="M149.3 3.4V204.6H368.3V3.4Z" fill="none" stroke="#000" stroke-width="3.0" stroke-linecap="square"/>
<path d="M142.8 204.6H149.3M151.2 204.6V212.6M142.8 189.5H149.3M167.6 204.6V212.6M142.8 180.7H149.3M177.2 204.6V212.6M142.8 174.4H149.3M184 204.6V212.6M142.8 169.6H149.3M189.2 204.6V212.6M142.8 165.6H149.3M193.5 204.6V212.6M142.8 162.3H149.3M197.2 204.6V212.6M142.8 159.4H149.3M200.3 204.6V212.6M142.8 156.8H149.3M203.1 204.6V212.6M142.8 154.5H149.3M205.6 204.6V212.6M142.8 139.4H149.3M222 204.6V212.6M142.8 130.6H149.3M231.6 204.6V212.6M142.8 124.3H149.3M238.4 204.6V212.6M142.8 119.5H149.3M243.6 204.6V212.6M142.8 115.5H149.3M247.9 204.6V212.6M142.8 112.2H149.3M251.6 204.6V212.6M142.8 109.3H149.3M254.7 204.6V212.6M142.8 106.7H149.3M257.5 204.6V212.6M142.8 104.4H149.3M260 204.6V212.6M142.8 89.3H149.3M276.4 204.6V212.6M142.8 80.5H149.3M286 204.6V212.6M142.8 74.2H149.3M292.8 204.6V212.6M142.8 69.4H149.3M298 204.6V212.6M142.8 65.4H149.3M302.3 204.6V212.6M142.8 62.1H149.3M306 204.6V212.6M142.8 59.2H149.3M309.1 204.6V212.6M142.8 56.6H149.3M311.9 204.6V212.6M142.8 54.3H149.3M314.4 204.6V212.6M142.8 39.2H149.3M330.8 204.6V212.6M142.8 30.4H149.3M340.4 204.6V212.6M142.8 24.1H149.3M347.2 204.6V212.6M142.8 19.3H149.3M352.4 204.6V212.6M142.8 15.3H149.3M356.7 204.6V212.6M142.8 12H149.3M360.4 204.6V212.6M142.8 9.1H149.3M363.5 204.6V212.6M142.8 6.5H149.3M366.3 204.6V212.6M142.8 3.4H149.3M368.3 204.6V212.6" stroke="#000" stroke-width="1.5"/>
<path d="M41 309.6V475.8H211.2V309.6Z" fill="none" stroke="#000" stroke-width="2.6" stroke-linecap="square"/>
<path d="M36 475.8H41M41 475.8V481.8M36 463.3H41M53.8 475.8V481.8M36 456H41M61.3 475.8V481.8M36 450.8H41M66.6 475.8V481.8M36 446.8H41M70.7 475.8V481.8M36 443.5H41M74.1 475.8V481.8M36 440.7H41M77 475.8V481.8M36 438.3H41M79.4 475.8V481.8M36 436.2H41M81.6 475.8V481.8M36 434.2H41M83.5 475.8V481.8M36 421.7H41M96.4 475.8V481.8M36 414.4H41M103.9 475.8V481.8M36 409.2H41M109.2 475.8V481.8M36 405.2H41M113.3 475.8V481.8M36 401.9H41M116.7 475.8V481.8M36 399.1H41M119.5 475.8V481.8M36 396.7H41M122 475.8V481.8M36 394.6H41M124.2 475.8V481.8M36 392.7H41M126.1 475.8V481.8M36 380.2H41M138.9 475.8V481.8M36 372.9H41M146.4 475.8V481.8M36 367.7H41M151.7 475.8V481.8M36 363.7H41M155.8 475.8V481.8M36 360.4H41M159.2 475.8V481.8M36 357.6H41M162.1 475.8V481.8M36 355.2H41M164.5 475.8V481.8M36 353.1H41M166.7 475.8V481.8M36 351.2H41M168.6 475.8V481.8M36 338.6H41M181.5 475.8V481.8M36 331.3H41M189 475.8V481.8M36 326.1H41M194.3 475.8V481.8M36 322.1H41M198.4 475.8V481.8M36 318.8H41M201.8 475.8V481.8M36 316H41M204.6 475.8V481.8M36 313.6H41M207.1 475.8V481.8M36 311.5H41M209.3 475.8V481.8M36 309.6H41M211.2 475.8V481.8" stroke="#000" stroke-width="1.3"/>
<path d="M167.8 309.6V475.8M41 416H211.2" stroke="#000" stroke-width="1.4"/>
<path d="M332.5 311.7V482.3H504.4V311.7Z" fill="none" stroke="#000" stroke-width="2.6" stroke-linecap="square"/>
<path d="M327.5 482.3H332.5M332.5 482.3V488.1M327.5 469.5H332.5M345.4 482.3V488.1M327.5 462H332.5M353 482.3V488.1M327.5 456.6H332.5M358.4 482.3V488.1M327.5 452.5H332.5M362.5 482.3V488.1M327.5 449.1H332.5M365.9 482.3V488.1M327.5 446.3H332.5M368.8 482.3V488.1M327.5 443.8H332.5M371.3 482.3V488.1M327.5 441.6H332.5M373.5 482.3V488.1M327.5 439.6H332.5M375.5 482.3V488.1M327.5 426.8H332.5M388.4 482.3V488.1M327.5 419.3H332.5M396 482.3V488.1M327.5 414H332.5M401.3 482.3V488.1M327.5 409.8H332.5M405.5 482.3V488.1M327.5 406.5H332.5M408.9 482.3V488.1M327.5 403.6H332.5M411.8 482.3V488.1M327.5 401.1H332.5M414.3 482.3V488.1M327.5 399H332.5M416.5 482.3V488.1M327.5 397H332.5M418.4 482.3V488.1M327.5 384.2H332.5M431.4 482.3V488.1M327.5 376.7H332.5M439 482.3V488.1M327.5 371.3H332.5M444.3 482.3V488.1M327.5 367.2H332.5M448.5 482.3V488.1M327.5 363.8H332.5M451.9 482.3V488.1M327.5 361H332.5M454.8 482.3V488.1M327.5 358.5H332.5M457.3 482.3V488.1M327.5 356.3H332.5M459.5 482.3V488.1M327.5 354.4H332.5M461.4 482.3V488.1M327.5 341.5H332.5M474.4 482.3V488.1M327.5 334H332.5M481.9 482.3V488.1M327.5 328.7H332.5M487.3 482.3V488.1M327.5 324.5H332.5M491.5 482.3V488.1M327.5 321.2H332.5M494.9 482.3V488.1M327.5 318.3H332.5M497.7 482.3V488.1M327.5 315.8H332.5M500.2 482.3V488.1M327.5 313.7H332.5M502.4 482.3V488.1M327.5 311.7H332.5M504.4 482.3V488.1" stroke="#000" stroke-width="1.3"/>
<path d="M461.7 311.7V482.3M332.5 421.5H504.4" stroke="#000" stroke-width="1.4"/>
<path d="M43 587V749.7H212.5V587Z" fill="none" stroke="#000" stroke-width="2.6" stroke-linecap="square"/>
<path d="M38.5 749.7H43M43 749.7V755.2M38.5 737.5H43M55.8 749.7V755.2M38.5 730.3H43M63.2 749.7V755.2M38.5 725.2H43M68.5 749.7V755.2M38.5 721.3H43M72.6 749.7V755.2M38.5 718H43M76 749.7V755.2M38.5 715.3H43M78.8 749.7V755.2M38.5 713H43M81.3 749.7V755.2M38.5 710.9H43M83.4 749.7V755.2M38.5 709H43M85.4 749.7V755.2M38.5 696.8H43M98.1 749.7V755.2M38.5 689.6H43M105.6 749.7V755.2M38.5 684.5H43M110.9 749.7V755.2M38.5 680.6H43M115 749.7V755.2M38.5 677.4H43M118.3 749.7V755.2M38.5 674.7H43M121.2 749.7V755.2M38.5 672.3H43M123.6 749.7V755.2M38.5 670.2H43M125.8 749.7V755.2M38.5 668.4H43M127.8 749.7V755.2M38.5 656.1H43M140.5 749.7V755.2M38.5 648.9H43M148 749.7V755.2M38.5 643.9H43M153.3 749.7V755.2M38.5 639.9H43M157.4 749.7V755.2M38.5 636.7H43M160.7 749.7V755.2M38.5 634H43M163.6 749.7V755.2M38.5 631.6H43M166 749.7V755.2M38.5 629.5H43M168.2 749.7V755.2M38.5 627.7H43M170.1 749.7V755.2M38.5 615.4H43M182.9 749.7V755.2M38.5 608.3H43M190.3 749.7V755.2M38.5 603.2H43M195.6 749.7V755.2M38.5 599.2H43M199.7 749.7V755.2M38.5 596H43M203.1 749.7V755.2M38.5 593.3H43M205.9 749.7V755.2M38.5 590.9H43M208.4 749.7V755.2M38.5 588.9H43M210.6 749.7V755.2M38.5 587H43M212.5 749.7V755.2" stroke="#000" stroke-width="1.3"/>
<path d="M170.2 587V749.7M43 691.3H212.5" stroke="#000" stroke-width="1.4"/>
<path d="M341.3 584.8V748.2H514V584.8Z" fill="none" stroke="#000" stroke-width="2.6" stroke-linecap="square"/>
<path d="M336.8 748.2H341.3M341.3 748.2V753.7M336.8 735.9H341.3M354.3 748.2V753.7M336.8 728.7H341.3M361.9 748.2V753.7M336.8 723.6H341.3M367.3 748.2V753.7M336.8 719.6H341.3M371.5 748.2V753.7M336.8 716.4H341.3M374.9 748.2V753.7M336.8 713.7H341.3M377.8 748.2V753.7M336.8 711.3H341.3M380.3 748.2V753.7M336.8 709.2H341.3M382.5 748.2V753.7M336.8 707.4H341.3M384.5 748.2V753.7M336.8 695.1H341.3M397.5 748.2V753.7M336.8 687.9H341.3M405.1 748.2V753.7M336.8 682.8H341.3M410.5 748.2V753.7M336.8 678.8H341.3M414.7 748.2V753.7M336.8 675.6H341.3M418.1 748.2V753.7M336.8 672.8H341.3M421 748.2V753.7M336.8 670.5H341.3M423.5 748.2V753.7M336.8 668.4H341.3M425.7 748.2V753.7M336.8 666.5H341.3M427.6 748.2V753.7M336.8 654.2H341.3M440.6 748.2V753.7M336.8 647H341.3M448.2 748.2V753.7M336.8 641.9H341.3M453.6 748.2V753.7M336.8 637.9H341.3M457.8 748.2V753.7M336.8 634.7H341.3M461.2 748.2V753.7M336.8 632H341.3M464.1 748.2V753.7M336.8 629.6H341.3M466.6 748.2V753.7M336.8 627.5H341.3M468.8 748.2V753.7M336.8 625.6H341.3M470.8 748.2V753.7M336.8 613.4H341.3M483.8 748.2V753.7M336.8 606.2H341.3M491.4 748.2V753.7M336.8 601.1H341.3M496.8 748.2V753.7M336.8 597.1H341.3M501 748.2V753.7M336.8 593.9H341.3M504.4 748.2V753.7M336.8 591.1H341.3M507.3 748.2V753.7M336.8 588.8H341.3M509.8 748.2V753.7M336.8 586.7H341.3M512 748.2V753.7M336.8 584.8H341.3M514 748.2V753.7" stroke="#000" stroke-width="1.3"/>
<path d="M470.6 584.8V748.2M341.3 689.3H514" stroke="#000" stroke-width="1.4"/>
<path d="M48.9 862.8V1027.3H220.2V862.8Z" fill="none" stroke="#000" stroke-width="2.6" stroke-linecap="square"/>
<path d="M44.7 1027.3H48.9M48.9 1027.3V1032.8M44.7 1014.9H48.9M61.8 1027.3V1032.8M44.7 1007.7H48.9M69.3 1027.3V1032.8M44.7 1002.5H48.9M74.7 1027.3V1032.8M44.7 998.6H48.9M78.8 1027.3V1032.8M44.7 995.3H48.9M82.2 1027.3V1032.8M44.7 992.5H48.9M85.1 1027.3V1032.8M44.7 990.2H48.9M87.6 1027.3V1032.8M44.7 988.1H48.9M89.8 1027.3V1032.8M44.7 986.2H48.9M91.7 1027.3V1032.8M44.7 973.8H48.9M104.6 1027.3V1032.8M44.7 966.6H48.9M112.2 1027.3V1032.8M44.7 961.4H48.9M117.5 1027.3V1032.8M44.7 957.4H48.9M121.7 1027.3V1032.8M44.7 954.2H48.9M125 1027.3V1032.8M44.7 951.4H48.9M127.9 1027.3V1032.8M44.7 949H48.9M130.4 1027.3V1032.8M44.7 946.9H48.9M132.6 1027.3V1032.8M44.7 945H48.9M134.5 1027.3V1032.8M44.7 932.7H48.9M147.4 1027.3V1032.8M44.7 925.4H48.9M155 1027.3V1032.8M44.7 920.3H48.9M160.3 1027.3V1032.8M44.7 916.3H48.9M164.5 1027.3V1032.8M44.7 913H48.9M167.9 1027.3V1032.8M44.7 910.3H48.9M170.7 1027.3V1032.8M44.7 907.9H48.9M173.2 1027.3V1032.8M44.7 905.8H48.9M175.4 1027.3V1032.8M44.7 903.9H48.9M177.4 1027.3V1032.8M44.7 891.5H48.9M190.3 1027.3V1032.8M44.7 884.3H48.9M197.8 1027.3V1032.8M44.7 879.2H48.9M203.2 1027.3V1032.8M44.7 875.2H48.9M207.3 1027.3V1032.8M44.7 871.9H48.9M210.7 1027.3V1032.8M44.7 869.2H48.9M213.6 1027.3V1032.8M44.7 866.8H48.9M216 1027.3V1032.8M44.7 864.7H48.9M218.2 1027.3V1032.8M44.7 862.8H48.9M220.2 1027.3V1032.8" stroke="#000" stroke-width="1.3"/>
<path d="M177.6 862.8V1027.3M48.9 968.6H220.2" stroke="#000" stroke-width="1.4"/>
<path d="M344 864.9V1009M342.7 1028.8H516.2V864.9H342.7" fill="none" stroke="#000" stroke-width="2.6" stroke-linecap="square"/>
<path d="M344 1028.8V1035.1M357 1028.8V1035.1M339.7 1009.2H344M364.5 1028.8V1035.1M339.7 1004.1H344M369.9 1028.8V1035.1M339.7 1000.2H344M374.1 1028.8V1035.1M339.7 996.9H344M377.5 1028.8V1035.1M339.7 994.2H344M380.4 1028.8V1035.1M339.7 991.8H344M382.9 1028.8V1035.1M339.7 989.7H344M385.1 1028.8V1035.1M339.7 987.8H344M387.1 1028.8V1035.1M339.7 975.5H344M400 1028.8V1035.1M339.7 968.3H344M407.6 1028.8V1035.1M339.7 963.2H344M413 1028.8V1035.1M339.7 959.2H344M417.1 1028.8V1035.1M339.7 955.9H344M420.5 1028.8V1035.1M339.7 953.2H344M423.4 1028.8V1035.1M339.7 950.8H344M425.9 1028.8V1035.1M339.7 948.7H344M428.1 1028.8V1035.1M339.7 946.8H344M430.1 1028.8V1035.1M339.7 934.5H344M443.1 1028.8V1035.1M339.7 927.3H344M450.6 1028.8V1035.1M339.7 922.2H344M456 1028.8V1035.1M339.7 918.2H344M460.2 1028.8V1035.1M339.7 915H344M463.6 1028.8V1035.1M339.7 912.2H344M466.5 1028.8V1035.1M339.7 909.8H344M469 1028.8V1035.1M339.7 907.7H344M471.2 1028.8V1035.1M339.7 905.9H344M473.2 1028.8V1035.1M339.7 893.5H344M486.1 1028.8V1035.1M339.7 886.3H344M493.7 1028.8V1035.1M339.7 881.2H344M499.1 1028.8V1035.1M339.7 877.2H344M503.2 1028.8V1035.1M339.7 874H344M506.6 1028.8V1035.1M339.7 871.2H344M509.5 1028.8V1035.1M339.7 868.9H344M512 1028.8V1035.1M339.7 866.8H344M514.2 1028.8V1035.1M339.7 864.9H344M516.2 1028.8V1035.1" stroke="#000" stroke-width="1.3"/>
<path d="M473 864.9V1028.8M344 971H516.2" stroke="#000" stroke-width="1.4"/>
<rect x="213.5" y="60.5" width="88" height="131" rx="11" fill="none" stroke="#000" stroke-width="1.4"/>
<rect x="318.3" y="33.3" width="24.5" height="23.8" fill="none" stroke="#000" stroke-width="1.5"/>
<text x="41.1" y="291.6" font-family="'Liberation Sans', sans-serif" font-size="20.5" font-weight="bold" textLength="158.3" lengthAdjust="spacingAndGlyphs">Isotype control</text>
<text x="372.8" y="290" font-family="'Liberation Sans', sans-serif" font-size="20.5" font-weight="bold" textLength="109" lengthAdjust="spacingAndGlyphs">Annexin V</text>
<text x="77.9" y="573" font-family="'Liberation Sans', sans-serif" font-size="20.5" font-weight="bold" textLength="103.3" lengthAdjust="spacingAndGlyphs">E-selectin</text>
<text x="389" y="572.2" font-family="'Liberation Sans', sans-serif" font-size="20.5" font-weight="bold" textLength="81.9" lengthAdjust="spacingAndGlyphs">VCAM-1</text>
<text x="91.7" y="848.5" font-family="'Liberation Sans', sans-serif" font-size="20.5" font-weight="bold" textLength="92.3" lengthAdjust="spacingAndGlyphs">Endoglin</text>
<text x="364.5" y="847.2" font-family="'Liberation Sans', sans-serif" font-size="20.5" font-weight="bold" textLength="121" lengthAdjust="spacingAndGlyphs">3End mAbs</text>
<text x="14.9" y="434.4" font-family="'Liberation Serif', serif" font-size="17.5" font-weight="bold" transform="rotate(-90 14.9 434.4)" stroke="#000" stroke-width="0.35" textLength="35.3" lengthAdjust="spacingAndGlyphs">FL1</text>
<text x="14.9" y="384.5" font-family="'Liberation Serif', serif" font-size="17.5" font-weight="bold" transform="rotate(-90 14.9 384.5)" stroke="#000" stroke-width="0.35" textLength="36" lengthAdjust="spacingAndGlyphs">LOG</text>
<text x="307.3" y="442.1" font-family="'Liberation Serif', serif" font-size="17.5" font-weight="bold" transform="rotate(-90 307.3 442.1)" stroke="#000" stroke-width="0.35" textLength="33.8" lengthAdjust="spacingAndGlyphs">FL1</text>
<text x="307.3" y="394.4" font-family="'Liberation Serif', serif" font-size="17.5" font-weight="bold" transform="rotate(-90 307.3 394.4)" stroke="#000" stroke-width="0.35" textLength="34.5" lengthAdjust="spacingAndGlyphs">LOG</text>
<text x="16.9" y="724.2" font-family="'Liberation Serif', serif" font-size="17.5" font-weight="bold" transform="rotate(-90 16.9 724.2)" stroke="#000" stroke-width="0.35" textLength="35.2" lengthAdjust="spacingAndGlyphs">FL1</text>
<text x="16.9" y="674.5" font-family="'Liberation Serif', serif" font-size="17.5" font-weight="bold" transform="rotate(-90 16.9 674.5)" stroke="#000" stroke-width="0.35" textLength="35.9" lengthAdjust="spacingAndGlyphs">LOG</text>
<text x="315.7" y="721.3" font-family="'Liberation Serif', serif" font-size="17.5" font-weight="bold" transform="rotate(-90 315.7 721.3)" stroke="#000" stroke-width="0.35" textLength="35" lengthAdjust="spacingAndGlyphs">FL1</text>
<text x="315.7" y="671.8" font-family="'Liberation Serif', serif" font-size="17.5" font-weight="bold" transform="rotate(-90 315.7 671.8)" stroke="#000" stroke-width="0.35" textLength="35.7" lengthAdjust="spacingAndGlyphs">LOG</text>
<text x="18" y="997.2" font-family="'Liberation Serif', serif" font-size="17.5" font-weight="bold" transform="rotate(-90 18 997.2)" stroke="#000" stroke-width="0.35" textLength="35.4" lengthAdjust="spacingAndGlyphs">FL1</text>
<text x="18" y="947.1" font-family="'Liberation Serif', serif" font-size="17.5" font-weight="bold" transform="rotate(-90 18 947.1)" stroke="#000" stroke-width="0.35" textLength="36.1" lengthAdjust="spacingAndGlyphs">LOG</text>
<text x="328.2" y="999.2" font-family="'Liberation Serif', serif" font-size="17.5" font-weight="bold" transform="rotate(-90 328.2 999.2)" stroke="#000" stroke-width="0.35" textLength="35.2" lengthAdjust="spacingAndGlyphs">FL1</text>
<text x="328.2" y="949.5" font-family="'Liberation Serif', serif" font-size="17.5" font-weight="bold" transform="rotate(-90 328.2 949.5)" stroke="#000" stroke-width="0.35" textLength="35.9" lengthAdjust="spacingAndGlyphs">LOG</text>
<text x="75.8" y="516.6" font-family="'Liberation Serif', serif" font-size="17.5" font-weight="bold" stroke="#000" stroke-width="0.35" textLength="25.8" lengthAdjust="spacingAndGlyphs">SS</text>
<text x="114.6" y="516.6" font-family="'Liberation Serif', serif" font-size="17.5" font-weight="bold" stroke="#000" stroke-width="0.35" textLength="37" lengthAdjust="spacingAndGlyphs">LOG</text>
<text x="382.7" y="521.5" font-family="'Liberation Serif', serif" font-size="17.5" font-weight="bold" stroke="#000" stroke-width="0.35" textLength="24.7" lengthAdjust="spacingAndGlyphs">SS</text>
<text x="419.6" y="521.5" font-family="'Liberation Serif', serif" font-size="17.5" font-weight="bold" stroke="#000" stroke-width="0.35" textLength="35.3" lengthAdjust="spacingAndGlyphs">LOG</text>
<text x="88.1" y="791.5" font-family="'Liberation Serif', serif" font-size="17.5" font-weight="bold" stroke="#000" stroke-width="0.35" textLength="25.2" lengthAdjust="spacingAndGlyphs">SS</text>
<text x="125.9" y="791.5" font-family="'Liberation Serif', serif" font-size="17.5" font-weight="bold" stroke="#000" stroke-width="0.35" textLength="36.1" lengthAdjust="spacingAndGlyphs">LOG</text>
<text x="388.1" y="790.2" font-family="'Liberation Serif', serif" font-size="17.5" font-weight="bold" stroke="#000" stroke-width="0.35" textLength="25.4" lengthAdjust="spacingAndGlyphs">SS</text>
<text x="426.2" y="790.2" font-family="'Liberation Serif', serif" font-size="17.5" font-weight="bold" stroke="#000" stroke-width="0.35" textLength="36.4" lengthAdjust="spacingAndGlyphs">LOG</text>
<text x="88.5" y="1068.8" font-family="'Liberation Serif', serif" font-size="17.5" font-weight="bold" stroke="#000" stroke-width="0.35" textLength="25.5" lengthAdjust="spacingAndGlyphs">SS</text>
<text x="126.8" y="1068.8" font-family="'Liberation Serif', serif" font-size="17.5" font-weight="bold" stroke="#000" stroke-width="0.35" textLength="36.5" lengthAdjust="spacingAndGlyphs">LOG</text>
<text x="388.5" y="1069.8" font-family="'Liberation Serif', serif" font-size="17.5" font-weight="bold" stroke="#000" stroke-width="0.35" textLength="25.5" lengthAdjust="spacingAndGlyphs">SS</text>
<text x="426.8" y="1069.8" font-family="'Liberation Serif', serif" font-size="17.5" font-weight="bold" stroke="#000" stroke-width="0.35" textLength="36.5" lengthAdjust="spacingAndGlyphs">LOG</text>
<text x="117.9" y="130.6" font-family="'Liberation Sans', sans-serif" font-size="22" font-weight="normal" transform="rotate(-90 117.9 130.6)" textLength="42.6" lengthAdjust="spacingAndGlyphs">FSC</text>
<text x="235" y="246.4" font-family="'Liberation Sans', sans-serif" font-size="22" font-weight="normal" textLength="43.4" lengthAdjust="spacingAndGlyphs">SSC</text>
<text x="198" y="57.7" font-family="'Liberation Sans', sans-serif" font-size="25.5" font-weight="normal">A</text>
<text x="298.6" y="35.8" font-family="'Liberation Sans', sans-serif" font-size="25.5" font-weight="normal" textLength="17.6" lengthAdjust="spacingAndGlyphs">B</text></svg></body></html>
